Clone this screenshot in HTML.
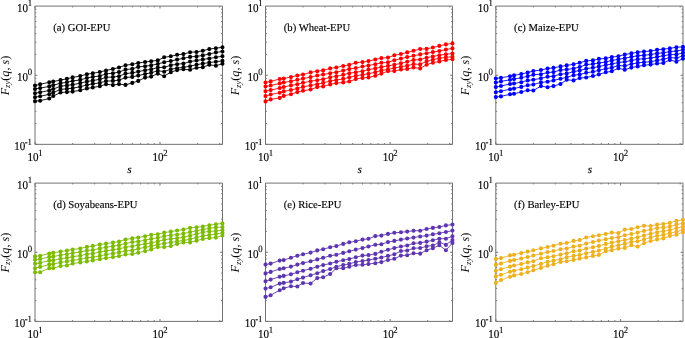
<!DOCTYPE html>
<html><head><meta charset="utf-8"><style>
html,body{margin:0;padding:0;background:#fff;}
svg{display:block;}
text{font-family:"Liberation Serif",serif;fill:#000;stroke:#000;stroke-width:0.15px;text-rendering:geometricPrecision;}
svg{will-change:transform;}
</style></head><body>
<svg width="685" height="338" viewBox="0 0 685 338">
<path d="M35 6.1H222.5V144.35H35Z" fill="none" stroke="#737373" stroke-width="1"/>
<path d="M35 144.35v-2.4M35 6.1v2.4M72.63 144.35v-1.3M72.63 6.1v1.3M94.64 144.35v-1.3M94.64 6.1v1.3M110.26 144.35v-1.3M110.26 6.1v1.3M122.37 144.35v-1.3M122.37 6.1v1.3M132.27 144.35v-1.3M132.27 6.1v1.3M140.64 144.35v-1.3M140.64 6.1v1.3M147.89 144.35v-1.3M147.89 6.1v1.3M154.28 144.35v-1.3M154.28 6.1v1.3M160 144.35v-2.4M160 6.1v2.4M197.63 144.35v-1.3M197.63 6.1v1.3M219.64 144.35v-1.3M219.64 6.1v1.3M35 144.35h2.4M222.5 144.35h-2.4M35 123.54h1.3M222.5 123.54h-1.3M35 111.37h1.3M222.5 111.37h-1.3M35 102.73h1.3M222.5 102.73h-1.3M35 96.03h1.3M222.5 96.03h-1.3M35 90.56h1.3M222.5 90.56h-1.3M35 85.93h1.3M222.5 85.93h-1.3M35 81.92h1.3M222.5 81.92h-1.3M35 78.39h1.3M222.5 78.39h-1.3M35 75.22h2.4M222.5 75.22h-2.4M35 54.42h1.3M222.5 54.42h-1.3M35 42.24h1.3M222.5 42.24h-1.3M35 33.61h1.3M222.5 33.61h-1.3M35 26.91h1.3M222.5 26.91h-1.3M35 21.44h1.3M222.5 21.44h-1.3M35 16.81h1.3M222.5 16.81h-1.3M35 12.8h1.3M222.5 12.8h-1.3M35 9.26h1.3M222.5 9.26h-1.3" fill="none" stroke="#737373" stroke-width="1"/>
<polyline points="35,85.5 40.17,84.3 49.24,82.3 53.27,81.5 60.51,80.1 66.91,78.8 72.63,77.4 80.22,76.1 86.87,74.2 92.8,73.3 99.81,72 106.03,70.5 112.91,69 119.01,67.5 125.53,65.2 132.27,64.3 138.26,63 145.1,62 151.18,61.2 157.78,60.4 164.18,57.3 170.79,56.3 177.09,54.8 183.44,54.1 190.07,52.2 196.53,52 202.8,50.7 209.31,49.1 215.89,48.2 222.46,47.3" fill="none" stroke="#000000" stroke-width="0.9"/>
<polyline points="35,89 40.17,88.1 49.24,86.4 53.27,85.2 60.51,83.2 66.91,82.3 72.63,81 80.22,79.9 86.87,78 92.8,76.9 99.81,76 106.03,73.9 112.91,73.2 119.01,72.1 125.53,69.6 132.27,68.9 138.26,66.9 145.1,66.2 151.18,65.4 157.78,64 164.18,62.2 170.79,61 177.09,59.6 183.44,58.3 190.07,56.9 196.53,56.4 202.8,55.4 209.31,54 215.89,52.4 222.46,51.5" fill="none" stroke="#000000" stroke-width="0.9"/>
<polyline points="35,93.2 40.17,92.3 49.24,90.5 53.27,89 60.51,86.3 66.91,85.4 72.63,84.7 80.22,83.2 86.87,81.5 92.8,80.6 99.81,79.3 106.03,77.3 112.91,77.1 119.01,76.2 125.53,73.6 132.27,72.9 138.26,71.6 145.1,70.2 151.18,69.4 157.78,67.5 164.18,67.3 170.79,65.3 177.09,64.2 183.44,63.6 190.07,61.6 196.53,60.5 202.8,59.5 209.31,58.5 215.89,57.3 222.46,56.2" fill="none" stroke="#000000" stroke-width="0.9"/>
<polyline points="35,97.2 40.17,96.3 49.24,94.3 53.27,92.6 60.51,89.4 66.91,88.8 72.63,88.2 80.22,86.7 86.87,85 92.8,83.8 99.81,82.9 106.03,81 112.91,80.9 119.01,80.1 125.53,77.6 132.27,76.9 138.26,75.6 145.1,74 151.18,72.8 157.78,70.7 164.18,71.7 170.79,69.2 177.09,68.2 183.44,67.3 190.07,66.2 196.53,64.7 202.8,63.6 209.31,62.6 215.89,61.7 222.46,60.9" fill="none" stroke="#000000" stroke-width="0.9"/>
<polyline points="35,101.2 40.17,100.7 49.24,98.5 53.27,96 60.51,92.5 66.91,92.1 72.63,91.6 80.22,90.3 86.87,88.5 92.8,87.5 99.81,86.2 106.03,84.2 112.91,85.1 119.01,84.1 125.53,84.9 132.27,82.9 138.26,80.9 145.1,77.6 151.18,76.6 157.78,73.6 164.18,76.2 170.79,72.2 177.09,70.1 183.44,69.3 190.07,69.8 196.53,67.8 202.8,67.3 209.31,64.8 215.89,65.7 222.46,63.8" fill="none" stroke="#000000" stroke-width="0.9"/>
<path d="M32.95 85.5a2.05 2.05 0 1 0 4.1 0a2.05 2.05 0 1 0 -4.1 0M38.12 84.3a2.05 2.05 0 1 0 4.1 0a2.05 2.05 0 1 0 -4.1 0M47.19 82.3a2.05 2.05 0 1 0 4.1 0a2.05 2.05 0 1 0 -4.1 0M51.22 81.5a2.05 2.05 0 1 0 4.1 0a2.05 2.05 0 1 0 -4.1 0M58.46 80.1a2.05 2.05 0 1 0 4.1 0a2.05 2.05 0 1 0 -4.1 0M64.86 78.8a2.05 2.05 0 1 0 4.1 0a2.05 2.05 0 1 0 -4.1 0M70.58 77.4a2.05 2.05 0 1 0 4.1 0a2.05 2.05 0 1 0 -4.1 0M78.17 76.1a2.05 2.05 0 1 0 4.1 0a2.05 2.05 0 1 0 -4.1 0M84.82 74.2a2.05 2.05 0 1 0 4.1 0a2.05 2.05 0 1 0 -4.1 0M90.75 73.3a2.05 2.05 0 1 0 4.1 0a2.05 2.05 0 1 0 -4.1 0M97.76 72a2.05 2.05 0 1 0 4.1 0a2.05 2.05 0 1 0 -4.1 0M103.98 70.5a2.05 2.05 0 1 0 4.1 0a2.05 2.05 0 1 0 -4.1 0M110.86 69a2.05 2.05 0 1 0 4.1 0a2.05 2.05 0 1 0 -4.1 0M116.96 67.5a2.05 2.05 0 1 0 4.1 0a2.05 2.05 0 1 0 -4.1 0M123.48 65.2a2.05 2.05 0 1 0 4.1 0a2.05 2.05 0 1 0 -4.1 0M130.22 64.3a2.05 2.05 0 1 0 4.1 0a2.05 2.05 0 1 0 -4.1 0M136.21 63a2.05 2.05 0 1 0 4.1 0a2.05 2.05 0 1 0 -4.1 0M143.05 62a2.05 2.05 0 1 0 4.1 0a2.05 2.05 0 1 0 -4.1 0M149.13 61.2a2.05 2.05 0 1 0 4.1 0a2.05 2.05 0 1 0 -4.1 0M155.73 60.4a2.05 2.05 0 1 0 4.1 0a2.05 2.05 0 1 0 -4.1 0M162.13 57.3a2.05 2.05 0 1 0 4.1 0a2.05 2.05 0 1 0 -4.1 0M168.74 56.3a2.05 2.05 0 1 0 4.1 0a2.05 2.05 0 1 0 -4.1 0M175.04 54.8a2.05 2.05 0 1 0 4.1 0a2.05 2.05 0 1 0 -4.1 0M181.39 54.1a2.05 2.05 0 1 0 4.1 0a2.05 2.05 0 1 0 -4.1 0M188.02 52.2a2.05 2.05 0 1 0 4.1 0a2.05 2.05 0 1 0 -4.1 0M194.48 52a2.05 2.05 0 1 0 4.1 0a2.05 2.05 0 1 0 -4.1 0M200.75 50.7a2.05 2.05 0 1 0 4.1 0a2.05 2.05 0 1 0 -4.1 0M207.26 49.1a2.05 2.05 0 1 0 4.1 0a2.05 2.05 0 1 0 -4.1 0M213.84 48.2a2.05 2.05 0 1 0 4.1 0a2.05 2.05 0 1 0 -4.1 0M220.41 47.3a2.05 2.05 0 1 0 4.1 0a2.05 2.05 0 1 0 -4.1 0M32.95 89a2.05 2.05 0 1 0 4.1 0a2.05 2.05 0 1 0 -4.1 0M38.12 88.1a2.05 2.05 0 1 0 4.1 0a2.05 2.05 0 1 0 -4.1 0M47.19 86.4a2.05 2.05 0 1 0 4.1 0a2.05 2.05 0 1 0 -4.1 0M51.22 85.2a2.05 2.05 0 1 0 4.1 0a2.05 2.05 0 1 0 -4.1 0M58.46 83.2a2.05 2.05 0 1 0 4.1 0a2.05 2.05 0 1 0 -4.1 0M64.86 82.3a2.05 2.05 0 1 0 4.1 0a2.05 2.05 0 1 0 -4.1 0M70.58 81a2.05 2.05 0 1 0 4.1 0a2.05 2.05 0 1 0 -4.1 0M78.17 79.9a2.05 2.05 0 1 0 4.1 0a2.05 2.05 0 1 0 -4.1 0M84.82 78a2.05 2.05 0 1 0 4.1 0a2.05 2.05 0 1 0 -4.1 0M90.75 76.9a2.05 2.05 0 1 0 4.1 0a2.05 2.05 0 1 0 -4.1 0M97.76 76a2.05 2.05 0 1 0 4.1 0a2.05 2.05 0 1 0 -4.1 0M103.98 73.9a2.05 2.05 0 1 0 4.1 0a2.05 2.05 0 1 0 -4.1 0M110.86 73.2a2.05 2.05 0 1 0 4.1 0a2.05 2.05 0 1 0 -4.1 0M116.96 72.1a2.05 2.05 0 1 0 4.1 0a2.05 2.05 0 1 0 -4.1 0M123.48 69.6a2.05 2.05 0 1 0 4.1 0a2.05 2.05 0 1 0 -4.1 0M130.22 68.9a2.05 2.05 0 1 0 4.1 0a2.05 2.05 0 1 0 -4.1 0M136.21 66.9a2.05 2.05 0 1 0 4.1 0a2.05 2.05 0 1 0 -4.1 0M143.05 66.2a2.05 2.05 0 1 0 4.1 0a2.05 2.05 0 1 0 -4.1 0M149.13 65.4a2.05 2.05 0 1 0 4.1 0a2.05 2.05 0 1 0 -4.1 0M155.73 64a2.05 2.05 0 1 0 4.1 0a2.05 2.05 0 1 0 -4.1 0M162.13 62.2a2.05 2.05 0 1 0 4.1 0a2.05 2.05 0 1 0 -4.1 0M168.74 61a2.05 2.05 0 1 0 4.1 0a2.05 2.05 0 1 0 -4.1 0M175.04 59.6a2.05 2.05 0 1 0 4.1 0a2.05 2.05 0 1 0 -4.1 0M181.39 58.3a2.05 2.05 0 1 0 4.1 0a2.05 2.05 0 1 0 -4.1 0M188.02 56.9a2.05 2.05 0 1 0 4.1 0a2.05 2.05 0 1 0 -4.1 0M194.48 56.4a2.05 2.05 0 1 0 4.1 0a2.05 2.05 0 1 0 -4.1 0M200.75 55.4a2.05 2.05 0 1 0 4.1 0a2.05 2.05 0 1 0 -4.1 0M207.26 54a2.05 2.05 0 1 0 4.1 0a2.05 2.05 0 1 0 -4.1 0M213.84 52.4a2.05 2.05 0 1 0 4.1 0a2.05 2.05 0 1 0 -4.1 0M220.41 51.5a2.05 2.05 0 1 0 4.1 0a2.05 2.05 0 1 0 -4.1 0M32.95 93.2a2.05 2.05 0 1 0 4.1 0a2.05 2.05 0 1 0 -4.1 0M38.12 92.3a2.05 2.05 0 1 0 4.1 0a2.05 2.05 0 1 0 -4.1 0M47.19 90.5a2.05 2.05 0 1 0 4.1 0a2.05 2.05 0 1 0 -4.1 0M51.22 89a2.05 2.05 0 1 0 4.1 0a2.05 2.05 0 1 0 -4.1 0M58.46 86.3a2.05 2.05 0 1 0 4.1 0a2.05 2.05 0 1 0 -4.1 0M64.86 85.4a2.05 2.05 0 1 0 4.1 0a2.05 2.05 0 1 0 -4.1 0M70.58 84.7a2.05 2.05 0 1 0 4.1 0a2.05 2.05 0 1 0 -4.1 0M78.17 83.2a2.05 2.05 0 1 0 4.1 0a2.05 2.05 0 1 0 -4.1 0M84.82 81.5a2.05 2.05 0 1 0 4.1 0a2.05 2.05 0 1 0 -4.1 0M90.75 80.6a2.05 2.05 0 1 0 4.1 0a2.05 2.05 0 1 0 -4.1 0M97.76 79.3a2.05 2.05 0 1 0 4.1 0a2.05 2.05 0 1 0 -4.1 0M103.98 77.3a2.05 2.05 0 1 0 4.1 0a2.05 2.05 0 1 0 -4.1 0M110.86 77.1a2.05 2.05 0 1 0 4.1 0a2.05 2.05 0 1 0 -4.1 0M116.96 76.2a2.05 2.05 0 1 0 4.1 0a2.05 2.05 0 1 0 -4.1 0M123.48 73.6a2.05 2.05 0 1 0 4.1 0a2.05 2.05 0 1 0 -4.1 0M130.22 72.9a2.05 2.05 0 1 0 4.1 0a2.05 2.05 0 1 0 -4.1 0M136.21 71.6a2.05 2.05 0 1 0 4.1 0a2.05 2.05 0 1 0 -4.1 0M143.05 70.2a2.05 2.05 0 1 0 4.1 0a2.05 2.05 0 1 0 -4.1 0M149.13 69.4a2.05 2.05 0 1 0 4.1 0a2.05 2.05 0 1 0 -4.1 0M155.73 67.5a2.05 2.05 0 1 0 4.1 0a2.05 2.05 0 1 0 -4.1 0M162.13 67.3a2.05 2.05 0 1 0 4.1 0a2.05 2.05 0 1 0 -4.1 0M168.74 65.3a2.05 2.05 0 1 0 4.1 0a2.05 2.05 0 1 0 -4.1 0M175.04 64.2a2.05 2.05 0 1 0 4.1 0a2.05 2.05 0 1 0 -4.1 0M181.39 63.6a2.05 2.05 0 1 0 4.1 0a2.05 2.05 0 1 0 -4.1 0M188.02 61.6a2.05 2.05 0 1 0 4.1 0a2.05 2.05 0 1 0 -4.1 0M194.48 60.5a2.05 2.05 0 1 0 4.1 0a2.05 2.05 0 1 0 -4.1 0M200.75 59.5a2.05 2.05 0 1 0 4.1 0a2.05 2.05 0 1 0 -4.1 0M207.26 58.5a2.05 2.05 0 1 0 4.1 0a2.05 2.05 0 1 0 -4.1 0M213.84 57.3a2.05 2.05 0 1 0 4.1 0a2.05 2.05 0 1 0 -4.1 0M220.41 56.2a2.05 2.05 0 1 0 4.1 0a2.05 2.05 0 1 0 -4.1 0M32.95 97.2a2.05 2.05 0 1 0 4.1 0a2.05 2.05 0 1 0 -4.1 0M38.12 96.3a2.05 2.05 0 1 0 4.1 0a2.05 2.05 0 1 0 -4.1 0M47.19 94.3a2.05 2.05 0 1 0 4.1 0a2.05 2.05 0 1 0 -4.1 0M51.22 92.6a2.05 2.05 0 1 0 4.1 0a2.05 2.05 0 1 0 -4.1 0M58.46 89.4a2.05 2.05 0 1 0 4.1 0a2.05 2.05 0 1 0 -4.1 0M64.86 88.8a2.05 2.05 0 1 0 4.1 0a2.05 2.05 0 1 0 -4.1 0M70.58 88.2a2.05 2.05 0 1 0 4.1 0a2.05 2.05 0 1 0 -4.1 0M78.17 86.7a2.05 2.05 0 1 0 4.1 0a2.05 2.05 0 1 0 -4.1 0M84.82 85a2.05 2.05 0 1 0 4.1 0a2.05 2.05 0 1 0 -4.1 0M90.75 83.8a2.05 2.05 0 1 0 4.1 0a2.05 2.05 0 1 0 -4.1 0M97.76 82.9a2.05 2.05 0 1 0 4.1 0a2.05 2.05 0 1 0 -4.1 0M103.98 81a2.05 2.05 0 1 0 4.1 0a2.05 2.05 0 1 0 -4.1 0M110.86 80.9a2.05 2.05 0 1 0 4.1 0a2.05 2.05 0 1 0 -4.1 0M116.96 80.1a2.05 2.05 0 1 0 4.1 0a2.05 2.05 0 1 0 -4.1 0M123.48 77.6a2.05 2.05 0 1 0 4.1 0a2.05 2.05 0 1 0 -4.1 0M130.22 76.9a2.05 2.05 0 1 0 4.1 0a2.05 2.05 0 1 0 -4.1 0M136.21 75.6a2.05 2.05 0 1 0 4.1 0a2.05 2.05 0 1 0 -4.1 0M143.05 74a2.05 2.05 0 1 0 4.1 0a2.05 2.05 0 1 0 -4.1 0M149.13 72.8a2.05 2.05 0 1 0 4.1 0a2.05 2.05 0 1 0 -4.1 0M155.73 70.7a2.05 2.05 0 1 0 4.1 0a2.05 2.05 0 1 0 -4.1 0M162.13 71.7a2.05 2.05 0 1 0 4.1 0a2.05 2.05 0 1 0 -4.1 0M168.74 69.2a2.05 2.05 0 1 0 4.1 0a2.05 2.05 0 1 0 -4.1 0M175.04 68.2a2.05 2.05 0 1 0 4.1 0a2.05 2.05 0 1 0 -4.1 0M181.39 67.3a2.05 2.05 0 1 0 4.1 0a2.05 2.05 0 1 0 -4.1 0M188.02 66.2a2.05 2.05 0 1 0 4.1 0a2.05 2.05 0 1 0 -4.1 0M194.48 64.7a2.05 2.05 0 1 0 4.1 0a2.05 2.05 0 1 0 -4.1 0M200.75 63.6a2.05 2.05 0 1 0 4.1 0a2.05 2.05 0 1 0 -4.1 0M207.26 62.6a2.05 2.05 0 1 0 4.1 0a2.05 2.05 0 1 0 -4.1 0M213.84 61.7a2.05 2.05 0 1 0 4.1 0a2.05 2.05 0 1 0 -4.1 0M220.41 60.9a2.05 2.05 0 1 0 4.1 0a2.05 2.05 0 1 0 -4.1 0M32.95 101.2a2.05 2.05 0 1 0 4.1 0a2.05 2.05 0 1 0 -4.1 0M38.12 100.7a2.05 2.05 0 1 0 4.1 0a2.05 2.05 0 1 0 -4.1 0M47.19 98.5a2.05 2.05 0 1 0 4.1 0a2.05 2.05 0 1 0 -4.1 0M51.22 96a2.05 2.05 0 1 0 4.1 0a2.05 2.05 0 1 0 -4.1 0M58.46 92.5a2.05 2.05 0 1 0 4.1 0a2.05 2.05 0 1 0 -4.1 0M64.86 92.1a2.05 2.05 0 1 0 4.1 0a2.05 2.05 0 1 0 -4.1 0M70.58 91.6a2.05 2.05 0 1 0 4.1 0a2.05 2.05 0 1 0 -4.1 0M78.17 90.3a2.05 2.05 0 1 0 4.1 0a2.05 2.05 0 1 0 -4.1 0M84.82 88.5a2.05 2.05 0 1 0 4.1 0a2.05 2.05 0 1 0 -4.1 0M90.75 87.5a2.05 2.05 0 1 0 4.1 0a2.05 2.05 0 1 0 -4.1 0M97.76 86.2a2.05 2.05 0 1 0 4.1 0a2.05 2.05 0 1 0 -4.1 0M103.98 84.2a2.05 2.05 0 1 0 4.1 0a2.05 2.05 0 1 0 -4.1 0M110.86 85.1a2.05 2.05 0 1 0 4.1 0a2.05 2.05 0 1 0 -4.1 0M116.96 84.1a2.05 2.05 0 1 0 4.1 0a2.05 2.05 0 1 0 -4.1 0M123.48 84.9a2.05 2.05 0 1 0 4.1 0a2.05 2.05 0 1 0 -4.1 0M130.22 82.9a2.05 2.05 0 1 0 4.1 0a2.05 2.05 0 1 0 -4.1 0M136.21 80.9a2.05 2.05 0 1 0 4.1 0a2.05 2.05 0 1 0 -4.1 0M143.05 77.6a2.05 2.05 0 1 0 4.1 0a2.05 2.05 0 1 0 -4.1 0M149.13 76.6a2.05 2.05 0 1 0 4.1 0a2.05 2.05 0 1 0 -4.1 0M155.73 73.6a2.05 2.05 0 1 0 4.1 0a2.05 2.05 0 1 0 -4.1 0M162.13 76.2a2.05 2.05 0 1 0 4.1 0a2.05 2.05 0 1 0 -4.1 0M168.74 72.2a2.05 2.05 0 1 0 4.1 0a2.05 2.05 0 1 0 -4.1 0M175.04 70.1a2.05 2.05 0 1 0 4.1 0a2.05 2.05 0 1 0 -4.1 0M181.39 69.3a2.05 2.05 0 1 0 4.1 0a2.05 2.05 0 1 0 -4.1 0M188.02 69.8a2.05 2.05 0 1 0 4.1 0a2.05 2.05 0 1 0 -4.1 0M194.48 67.8a2.05 2.05 0 1 0 4.1 0a2.05 2.05 0 1 0 -4.1 0M200.75 67.3a2.05 2.05 0 1 0 4.1 0a2.05 2.05 0 1 0 -4.1 0M207.26 64.8a2.05 2.05 0 1 0 4.1 0a2.05 2.05 0 1 0 -4.1 0M213.84 65.7a2.05 2.05 0 1 0 4.1 0a2.05 2.05 0 1 0 -4.1 0M220.41 63.8a2.05 2.05 0 1 0 4.1 0a2.05 2.05 0 1 0 -4.1 0" fill="#000000"/>
<text transform="translate(32,11.75) scale(0.92,1)" text-anchor="end" font-size="12">10<tspan dx="-0.5" dy="-5.5" font-size="9.5">1</tspan></text>
<text transform="translate(32,80.88) scale(0.92,1)" text-anchor="end" font-size="12">10<tspan dx="-0.5" dy="-5.5" font-size="9.5">0</tspan></text>
<text transform="translate(32,150) scale(0.92,1)" text-anchor="end" font-size="12">10<tspan dx="-0.5" dy="-5.5" font-size="9.5">-1</tspan></text>
<text transform="translate(35,161) scale(0.92,1)" text-anchor="middle" font-size="12">10<tspan dx="-0.4" dy="-5.5" font-size="9.5">1</tspan></text>
<text transform="translate(160,161) scale(0.92,1)" text-anchor="middle" font-size="12">10<tspan dx="-0.4" dy="-5.5" font-size="9.5">2</tspan></text>
<text x="129.35" y="173.25" text-anchor="middle" font-size="11.2" font-style="italic">s</text>
<text transform="translate(8.6,75.52) rotate(-90)" text-anchor="middle" font-size="12.2" style="stroke:none"><tspan font-style="italic">F</tspan><tspan dy="1.8" font-size="8.6" font-style="italic">zy</tspan><tspan dy="-1.8">(</tspan><tspan font-style="italic">q</tspan>, <tspan font-style="italic">s</tspan>)</text>
<text x="53.3" y="30.5" font-size="10.65">(a) GOI-EPU</text>
<path d="M265.5 6.1H452.5V144.35H265.5Z" fill="none" stroke="#737373" stroke-width="1"/>
<path d="M265.5 144.35v-2.4M265.5 6.1v2.4M303.03 144.35v-1.3M303.03 6.1v1.3M324.98 144.35v-1.3M324.98 6.1v1.3M340.56 144.35v-1.3M340.56 6.1v1.3M352.64 144.35v-1.3M352.64 6.1v1.3M362.51 144.35v-1.3M362.51 6.1v1.3M370.86 144.35v-1.3M370.86 6.1v1.3M378.09 144.35v-1.3M378.09 6.1v1.3M384.46 144.35v-1.3M384.46 6.1v1.3M390.17 144.35v-2.4M390.17 6.1v2.4M427.7 144.35v-1.3M427.7 6.1v1.3M449.65 144.35v-1.3M449.65 6.1v1.3M265.5 144.35h2.4M452.5 144.35h-2.4M265.5 123.54h1.3M452.5 123.54h-1.3M265.5 111.37h1.3M452.5 111.37h-1.3M265.5 102.73h1.3M452.5 102.73h-1.3M265.5 96.03h1.3M452.5 96.03h-1.3M265.5 90.56h1.3M452.5 90.56h-1.3M265.5 85.93h1.3M452.5 85.93h-1.3M265.5 81.92h1.3M452.5 81.92h-1.3M265.5 78.39h1.3M452.5 78.39h-1.3M265.5 75.22h2.4M452.5 75.22h-2.4M265.5 54.42h1.3M452.5 54.42h-1.3M265.5 42.24h1.3M452.5 42.24h-1.3M265.5 33.61h1.3M452.5 33.61h-1.3M265.5 26.91h1.3M452.5 26.91h-1.3M265.5 21.44h1.3M452.5 21.44h-1.3M265.5 16.81h1.3M452.5 16.81h-1.3M265.5 12.8h1.3M452.5 12.8h-1.3M265.5 9.26h1.3M452.5 9.26h-1.3" fill="none" stroke="#737373" stroke-width="1"/>
<polyline points="265.5,82.5 270.66,81.4 279.7,79 283.72,78.5 290.95,77.1 297.32,75.5 303.03,74.5 310.6,72.4 317.23,71.2 323.15,70.4 330.14,68.4 336.34,67.5 343.2,66 349.29,64.9 355.79,62.7 362.51,62.1 368.48,61.1 375.31,59.5 381.37,58.1 387.96,57.6 394.33,55.3 400.93,54 407.21,52.4 413.54,50.8 420.16,49 426.6,48.9 432.86,47.5 439.34,45.9 445.91,44.4 452.46,43.4" fill="none" stroke="#ff0000" stroke-width="0.9"/>
<polyline points="265.5,86.5 270.66,85.5 279.7,83.4 283.72,82.5 290.95,81.2 297.32,79.7 303.03,78.6 310.6,77.1 317.23,75.5 323.15,74.5 330.14,73.3 336.34,72.2 343.2,70.6 349.29,69.1 355.79,68 362.51,66.5 368.48,65.5 375.31,64.2 381.37,62.8 387.96,62.3 394.33,60.2 400.93,58.6 407.21,57.1 413.54,55.8 420.16,54.4 426.6,53.3 432.86,52.1 439.34,51 445.91,49.6 452.46,48.4" fill="none" stroke="#ff0000" stroke-width="0.9"/>
<polyline points="265.5,91.2 270.66,90.1 279.7,88.1 283.72,87 290.95,85.4 297.32,84.3 303.03,82.8 310.6,81.2 317.23,80.2 323.15,79.2 330.14,77.3 336.34,76.3 343.2,74.8 349.29,73.2 355.79,72.2 362.51,71.2 368.48,69.6 375.31,68.4 381.37,67.1 387.96,65.9 394.33,64.8 400.93,63.3 407.21,61.7 413.54,60 420.16,59.6 426.6,57.7 432.86,56.5 439.34,55.2 445.91,54.3 452.46,53.5" fill="none" stroke="#ff0000" stroke-width="0.9"/>
<polyline points="265.5,96.1 270.66,94.5 279.7,92.7 283.72,91.4 290.95,90 297.32,88.5 303.03,86.9 310.6,85.4 317.23,84.3 323.15,82.8 330.14,81.1 336.34,80 343.2,78.9 349.29,77.4 355.79,75.8 362.51,74.8 368.48,73.7 375.31,72.2 381.37,70.5 387.96,69.5 394.33,68 400.93,66.7 407.21,65.7 413.54,64.1 420.16,64.4 426.6,61.3 432.86,59.7 439.34,58.3 445.91,57.3 452.46,56.9" fill="none" stroke="#ff0000" stroke-width="0.9"/>
<polyline points="265.5,101.4 270.66,99.4 279.7,97.9 283.72,95.9 290.95,94.2 297.32,92.1 303.03,90.8 310.6,89.5 317.23,87.1 323.15,86.4 330.14,84.4 336.34,83.1 343.2,82.5 349.29,81.5 355.79,79.1 362.51,77.9 368.48,77.4 375.31,75.8 381.37,73.6 387.96,71.1 394.33,71.1 400.93,69.5 407.21,69 413.54,67.5 420.16,68.4 426.6,64.7 432.86,62.7 439.34,61.4 445.91,60 452.46,59.3" fill="none" stroke="#ff0000" stroke-width="0.9"/>
<path d="M263.45 82.5a2.05 2.05 0 1 0 4.1 0a2.05 2.05 0 1 0 -4.1 0M268.61 81.4a2.05 2.05 0 1 0 4.1 0a2.05 2.05 0 1 0 -4.1 0M277.65 79a2.05 2.05 0 1 0 4.1 0a2.05 2.05 0 1 0 -4.1 0M281.67 78.5a2.05 2.05 0 1 0 4.1 0a2.05 2.05 0 1 0 -4.1 0M288.9 77.1a2.05 2.05 0 1 0 4.1 0a2.05 2.05 0 1 0 -4.1 0M295.27 75.5a2.05 2.05 0 1 0 4.1 0a2.05 2.05 0 1 0 -4.1 0M300.98 74.5a2.05 2.05 0 1 0 4.1 0a2.05 2.05 0 1 0 -4.1 0M308.55 72.4a2.05 2.05 0 1 0 4.1 0a2.05 2.05 0 1 0 -4.1 0M315.18 71.2a2.05 2.05 0 1 0 4.1 0a2.05 2.05 0 1 0 -4.1 0M321.1 70.4a2.05 2.05 0 1 0 4.1 0a2.05 2.05 0 1 0 -4.1 0M328.09 68.4a2.05 2.05 0 1 0 4.1 0a2.05 2.05 0 1 0 -4.1 0M334.29 67.5a2.05 2.05 0 1 0 4.1 0a2.05 2.05 0 1 0 -4.1 0M341.15 66a2.05 2.05 0 1 0 4.1 0a2.05 2.05 0 1 0 -4.1 0M347.24 64.9a2.05 2.05 0 1 0 4.1 0a2.05 2.05 0 1 0 -4.1 0M353.74 62.7a2.05 2.05 0 1 0 4.1 0a2.05 2.05 0 1 0 -4.1 0M360.46 62.1a2.05 2.05 0 1 0 4.1 0a2.05 2.05 0 1 0 -4.1 0M366.43 61.1a2.05 2.05 0 1 0 4.1 0a2.05 2.05 0 1 0 -4.1 0M373.26 59.5a2.05 2.05 0 1 0 4.1 0a2.05 2.05 0 1 0 -4.1 0M379.32 58.1a2.05 2.05 0 1 0 4.1 0a2.05 2.05 0 1 0 -4.1 0M385.91 57.6a2.05 2.05 0 1 0 4.1 0a2.05 2.05 0 1 0 -4.1 0M392.28 55.3a2.05 2.05 0 1 0 4.1 0a2.05 2.05 0 1 0 -4.1 0M398.88 54a2.05 2.05 0 1 0 4.1 0a2.05 2.05 0 1 0 -4.1 0M405.16 52.4a2.05 2.05 0 1 0 4.1 0a2.05 2.05 0 1 0 -4.1 0M411.49 50.8a2.05 2.05 0 1 0 4.1 0a2.05 2.05 0 1 0 -4.1 0M418.11 49a2.05 2.05 0 1 0 4.1 0a2.05 2.05 0 1 0 -4.1 0M424.55 48.9a2.05 2.05 0 1 0 4.1 0a2.05 2.05 0 1 0 -4.1 0M430.81 47.5a2.05 2.05 0 1 0 4.1 0a2.05 2.05 0 1 0 -4.1 0M437.29 45.9a2.05 2.05 0 1 0 4.1 0a2.05 2.05 0 1 0 -4.1 0M443.86 44.4a2.05 2.05 0 1 0 4.1 0a2.05 2.05 0 1 0 -4.1 0M450.41 43.4a2.05 2.05 0 1 0 4.1 0a2.05 2.05 0 1 0 -4.1 0M263.45 86.5a2.05 2.05 0 1 0 4.1 0a2.05 2.05 0 1 0 -4.1 0M268.61 85.5a2.05 2.05 0 1 0 4.1 0a2.05 2.05 0 1 0 -4.1 0M277.65 83.4a2.05 2.05 0 1 0 4.1 0a2.05 2.05 0 1 0 -4.1 0M281.67 82.5a2.05 2.05 0 1 0 4.1 0a2.05 2.05 0 1 0 -4.1 0M288.9 81.2a2.05 2.05 0 1 0 4.1 0a2.05 2.05 0 1 0 -4.1 0M295.27 79.7a2.05 2.05 0 1 0 4.1 0a2.05 2.05 0 1 0 -4.1 0M300.98 78.6a2.05 2.05 0 1 0 4.1 0a2.05 2.05 0 1 0 -4.1 0M308.55 77.1a2.05 2.05 0 1 0 4.1 0a2.05 2.05 0 1 0 -4.1 0M315.18 75.5a2.05 2.05 0 1 0 4.1 0a2.05 2.05 0 1 0 -4.1 0M321.1 74.5a2.05 2.05 0 1 0 4.1 0a2.05 2.05 0 1 0 -4.1 0M328.09 73.3a2.05 2.05 0 1 0 4.1 0a2.05 2.05 0 1 0 -4.1 0M334.29 72.2a2.05 2.05 0 1 0 4.1 0a2.05 2.05 0 1 0 -4.1 0M341.15 70.6a2.05 2.05 0 1 0 4.1 0a2.05 2.05 0 1 0 -4.1 0M347.24 69.1a2.05 2.05 0 1 0 4.1 0a2.05 2.05 0 1 0 -4.1 0M353.74 68a2.05 2.05 0 1 0 4.1 0a2.05 2.05 0 1 0 -4.1 0M360.46 66.5a2.05 2.05 0 1 0 4.1 0a2.05 2.05 0 1 0 -4.1 0M366.43 65.5a2.05 2.05 0 1 0 4.1 0a2.05 2.05 0 1 0 -4.1 0M373.26 64.2a2.05 2.05 0 1 0 4.1 0a2.05 2.05 0 1 0 -4.1 0M379.32 62.8a2.05 2.05 0 1 0 4.1 0a2.05 2.05 0 1 0 -4.1 0M385.91 62.3a2.05 2.05 0 1 0 4.1 0a2.05 2.05 0 1 0 -4.1 0M392.28 60.2a2.05 2.05 0 1 0 4.1 0a2.05 2.05 0 1 0 -4.1 0M398.88 58.6a2.05 2.05 0 1 0 4.1 0a2.05 2.05 0 1 0 -4.1 0M405.16 57.1a2.05 2.05 0 1 0 4.1 0a2.05 2.05 0 1 0 -4.1 0M411.49 55.8a2.05 2.05 0 1 0 4.1 0a2.05 2.05 0 1 0 -4.1 0M418.11 54.4a2.05 2.05 0 1 0 4.1 0a2.05 2.05 0 1 0 -4.1 0M424.55 53.3a2.05 2.05 0 1 0 4.1 0a2.05 2.05 0 1 0 -4.1 0M430.81 52.1a2.05 2.05 0 1 0 4.1 0a2.05 2.05 0 1 0 -4.1 0M437.29 51a2.05 2.05 0 1 0 4.1 0a2.05 2.05 0 1 0 -4.1 0M443.86 49.6a2.05 2.05 0 1 0 4.1 0a2.05 2.05 0 1 0 -4.1 0M450.41 48.4a2.05 2.05 0 1 0 4.1 0a2.05 2.05 0 1 0 -4.1 0M263.45 91.2a2.05 2.05 0 1 0 4.1 0a2.05 2.05 0 1 0 -4.1 0M268.61 90.1a2.05 2.05 0 1 0 4.1 0a2.05 2.05 0 1 0 -4.1 0M277.65 88.1a2.05 2.05 0 1 0 4.1 0a2.05 2.05 0 1 0 -4.1 0M281.67 87a2.05 2.05 0 1 0 4.1 0a2.05 2.05 0 1 0 -4.1 0M288.9 85.4a2.05 2.05 0 1 0 4.1 0a2.05 2.05 0 1 0 -4.1 0M295.27 84.3a2.05 2.05 0 1 0 4.1 0a2.05 2.05 0 1 0 -4.1 0M300.98 82.8a2.05 2.05 0 1 0 4.1 0a2.05 2.05 0 1 0 -4.1 0M308.55 81.2a2.05 2.05 0 1 0 4.1 0a2.05 2.05 0 1 0 -4.1 0M315.18 80.2a2.05 2.05 0 1 0 4.1 0a2.05 2.05 0 1 0 -4.1 0M321.1 79.2a2.05 2.05 0 1 0 4.1 0a2.05 2.05 0 1 0 -4.1 0M328.09 77.3a2.05 2.05 0 1 0 4.1 0a2.05 2.05 0 1 0 -4.1 0M334.29 76.3a2.05 2.05 0 1 0 4.1 0a2.05 2.05 0 1 0 -4.1 0M341.15 74.8a2.05 2.05 0 1 0 4.1 0a2.05 2.05 0 1 0 -4.1 0M347.24 73.2a2.05 2.05 0 1 0 4.1 0a2.05 2.05 0 1 0 -4.1 0M353.74 72.2a2.05 2.05 0 1 0 4.1 0a2.05 2.05 0 1 0 -4.1 0M360.46 71.2a2.05 2.05 0 1 0 4.1 0a2.05 2.05 0 1 0 -4.1 0M366.43 69.6a2.05 2.05 0 1 0 4.1 0a2.05 2.05 0 1 0 -4.1 0M373.26 68.4a2.05 2.05 0 1 0 4.1 0a2.05 2.05 0 1 0 -4.1 0M379.32 67.1a2.05 2.05 0 1 0 4.1 0a2.05 2.05 0 1 0 -4.1 0M385.91 65.9a2.05 2.05 0 1 0 4.1 0a2.05 2.05 0 1 0 -4.1 0M392.28 64.8a2.05 2.05 0 1 0 4.1 0a2.05 2.05 0 1 0 -4.1 0M398.88 63.3a2.05 2.05 0 1 0 4.1 0a2.05 2.05 0 1 0 -4.1 0M405.16 61.7a2.05 2.05 0 1 0 4.1 0a2.05 2.05 0 1 0 -4.1 0M411.49 60a2.05 2.05 0 1 0 4.1 0a2.05 2.05 0 1 0 -4.1 0M418.11 59.6a2.05 2.05 0 1 0 4.1 0a2.05 2.05 0 1 0 -4.1 0M424.55 57.7a2.05 2.05 0 1 0 4.1 0a2.05 2.05 0 1 0 -4.1 0M430.81 56.5a2.05 2.05 0 1 0 4.1 0a2.05 2.05 0 1 0 -4.1 0M437.29 55.2a2.05 2.05 0 1 0 4.1 0a2.05 2.05 0 1 0 -4.1 0M443.86 54.3a2.05 2.05 0 1 0 4.1 0a2.05 2.05 0 1 0 -4.1 0M450.41 53.5a2.05 2.05 0 1 0 4.1 0a2.05 2.05 0 1 0 -4.1 0M263.45 96.1a2.05 2.05 0 1 0 4.1 0a2.05 2.05 0 1 0 -4.1 0M268.61 94.5a2.05 2.05 0 1 0 4.1 0a2.05 2.05 0 1 0 -4.1 0M277.65 92.7a2.05 2.05 0 1 0 4.1 0a2.05 2.05 0 1 0 -4.1 0M281.67 91.4a2.05 2.05 0 1 0 4.1 0a2.05 2.05 0 1 0 -4.1 0M288.9 90a2.05 2.05 0 1 0 4.1 0a2.05 2.05 0 1 0 -4.1 0M295.27 88.5a2.05 2.05 0 1 0 4.1 0a2.05 2.05 0 1 0 -4.1 0M300.98 86.9a2.05 2.05 0 1 0 4.1 0a2.05 2.05 0 1 0 -4.1 0M308.55 85.4a2.05 2.05 0 1 0 4.1 0a2.05 2.05 0 1 0 -4.1 0M315.18 84.3a2.05 2.05 0 1 0 4.1 0a2.05 2.05 0 1 0 -4.1 0M321.1 82.8a2.05 2.05 0 1 0 4.1 0a2.05 2.05 0 1 0 -4.1 0M328.09 81.1a2.05 2.05 0 1 0 4.1 0a2.05 2.05 0 1 0 -4.1 0M334.29 80a2.05 2.05 0 1 0 4.1 0a2.05 2.05 0 1 0 -4.1 0M341.15 78.9a2.05 2.05 0 1 0 4.1 0a2.05 2.05 0 1 0 -4.1 0M347.24 77.4a2.05 2.05 0 1 0 4.1 0a2.05 2.05 0 1 0 -4.1 0M353.74 75.8a2.05 2.05 0 1 0 4.1 0a2.05 2.05 0 1 0 -4.1 0M360.46 74.8a2.05 2.05 0 1 0 4.1 0a2.05 2.05 0 1 0 -4.1 0M366.43 73.7a2.05 2.05 0 1 0 4.1 0a2.05 2.05 0 1 0 -4.1 0M373.26 72.2a2.05 2.05 0 1 0 4.1 0a2.05 2.05 0 1 0 -4.1 0M379.32 70.5a2.05 2.05 0 1 0 4.1 0a2.05 2.05 0 1 0 -4.1 0M385.91 69.5a2.05 2.05 0 1 0 4.1 0a2.05 2.05 0 1 0 -4.1 0M392.28 68a2.05 2.05 0 1 0 4.1 0a2.05 2.05 0 1 0 -4.1 0M398.88 66.7a2.05 2.05 0 1 0 4.1 0a2.05 2.05 0 1 0 -4.1 0M405.16 65.7a2.05 2.05 0 1 0 4.1 0a2.05 2.05 0 1 0 -4.1 0M411.49 64.1a2.05 2.05 0 1 0 4.1 0a2.05 2.05 0 1 0 -4.1 0M418.11 64.4a2.05 2.05 0 1 0 4.1 0a2.05 2.05 0 1 0 -4.1 0M424.55 61.3a2.05 2.05 0 1 0 4.1 0a2.05 2.05 0 1 0 -4.1 0M430.81 59.7a2.05 2.05 0 1 0 4.1 0a2.05 2.05 0 1 0 -4.1 0M437.29 58.3a2.05 2.05 0 1 0 4.1 0a2.05 2.05 0 1 0 -4.1 0M443.86 57.3a2.05 2.05 0 1 0 4.1 0a2.05 2.05 0 1 0 -4.1 0M450.41 56.9a2.05 2.05 0 1 0 4.1 0a2.05 2.05 0 1 0 -4.1 0M263.45 101.4a2.05 2.05 0 1 0 4.1 0a2.05 2.05 0 1 0 -4.1 0M268.61 99.4a2.05 2.05 0 1 0 4.1 0a2.05 2.05 0 1 0 -4.1 0M277.65 97.9a2.05 2.05 0 1 0 4.1 0a2.05 2.05 0 1 0 -4.1 0M281.67 95.9a2.05 2.05 0 1 0 4.1 0a2.05 2.05 0 1 0 -4.1 0M288.9 94.2a2.05 2.05 0 1 0 4.1 0a2.05 2.05 0 1 0 -4.1 0M295.27 92.1a2.05 2.05 0 1 0 4.1 0a2.05 2.05 0 1 0 -4.1 0M300.98 90.8a2.05 2.05 0 1 0 4.1 0a2.05 2.05 0 1 0 -4.1 0M308.55 89.5a2.05 2.05 0 1 0 4.1 0a2.05 2.05 0 1 0 -4.1 0M315.18 87.1a2.05 2.05 0 1 0 4.1 0a2.05 2.05 0 1 0 -4.1 0M321.1 86.4a2.05 2.05 0 1 0 4.1 0a2.05 2.05 0 1 0 -4.1 0M328.09 84.4a2.05 2.05 0 1 0 4.1 0a2.05 2.05 0 1 0 -4.1 0M334.29 83.1a2.05 2.05 0 1 0 4.1 0a2.05 2.05 0 1 0 -4.1 0M341.15 82.5a2.05 2.05 0 1 0 4.1 0a2.05 2.05 0 1 0 -4.1 0M347.24 81.5a2.05 2.05 0 1 0 4.1 0a2.05 2.05 0 1 0 -4.1 0M353.74 79.1a2.05 2.05 0 1 0 4.1 0a2.05 2.05 0 1 0 -4.1 0M360.46 77.9a2.05 2.05 0 1 0 4.1 0a2.05 2.05 0 1 0 -4.1 0M366.43 77.4a2.05 2.05 0 1 0 4.1 0a2.05 2.05 0 1 0 -4.1 0M373.26 75.8a2.05 2.05 0 1 0 4.1 0a2.05 2.05 0 1 0 -4.1 0M379.32 73.6a2.05 2.05 0 1 0 4.1 0a2.05 2.05 0 1 0 -4.1 0M385.91 71.1a2.05 2.05 0 1 0 4.1 0a2.05 2.05 0 1 0 -4.1 0M392.28 71.1a2.05 2.05 0 1 0 4.1 0a2.05 2.05 0 1 0 -4.1 0M398.88 69.5a2.05 2.05 0 1 0 4.1 0a2.05 2.05 0 1 0 -4.1 0M405.16 69a2.05 2.05 0 1 0 4.1 0a2.05 2.05 0 1 0 -4.1 0M411.49 67.5a2.05 2.05 0 1 0 4.1 0a2.05 2.05 0 1 0 -4.1 0M418.11 68.4a2.05 2.05 0 1 0 4.1 0a2.05 2.05 0 1 0 -4.1 0M424.55 64.7a2.05 2.05 0 1 0 4.1 0a2.05 2.05 0 1 0 -4.1 0M430.81 62.7a2.05 2.05 0 1 0 4.1 0a2.05 2.05 0 1 0 -4.1 0M437.29 61.4a2.05 2.05 0 1 0 4.1 0a2.05 2.05 0 1 0 -4.1 0M443.86 60a2.05 2.05 0 1 0 4.1 0a2.05 2.05 0 1 0 -4.1 0M450.41 59.3a2.05 2.05 0 1 0 4.1 0a2.05 2.05 0 1 0 -4.1 0" fill="#ff0000"/>
<text transform="translate(262.5,11.75) scale(0.92,1)" text-anchor="end" font-size="12">10<tspan dx="-0.5" dy="-5.5" font-size="9.5">1</tspan></text>
<text transform="translate(262.5,80.88) scale(0.92,1)" text-anchor="end" font-size="12">10<tspan dx="-0.5" dy="-5.5" font-size="9.5">0</tspan></text>
<text transform="translate(262.5,150) scale(0.92,1)" text-anchor="end" font-size="12">10<tspan dx="-0.5" dy="-5.5" font-size="9.5">-1</tspan></text>
<text transform="translate(265.5,161) scale(0.92,1)" text-anchor="middle" font-size="12">10<tspan dx="-0.4" dy="-5.5" font-size="9.5">1</tspan></text>
<text transform="translate(390.17,161) scale(0.92,1)" text-anchor="middle" font-size="12">10<tspan dx="-0.4" dy="-5.5" font-size="9.5">2</tspan></text>
<text x="359.6" y="173.25" text-anchor="middle" font-size="11.2" font-style="italic">s</text>
<text transform="translate(239.1,75.52) rotate(-90)" text-anchor="middle" font-size="12.2" style="stroke:none"><tspan font-style="italic">F</tspan><tspan dy="1.8" font-size="8.6" font-style="italic">zy</tspan><tspan dy="-1.8">(</tspan><tspan font-style="italic">q</tspan>, <tspan font-style="italic">s</tspan>)</text>
<text x="283.8" y="30.5" font-size="10.65">(b) Wheat-EPU</text>
<path d="M495.8 6.1H683V144.35H495.8Z" fill="none" stroke="#737373" stroke-width="1"/>
<path d="M495.8 144.35v-2.4M495.8 6.1v2.4M533.37 144.35v-1.3M533.37 6.1v1.3M555.34 144.35v-1.3M555.34 6.1v1.3M570.94 144.35v-1.3M570.94 6.1v1.3M583.03 144.35v-1.3M583.03 6.1v1.3M592.91 144.35v-1.3M592.91 6.1v1.3M601.27 144.35v-1.3M601.27 6.1v1.3M608.51 144.35v-1.3M608.51 6.1v1.3M614.89 144.35v-1.3M614.89 6.1v1.3M620.6 144.35v-2.4M620.6 6.1v2.4M658.17 144.35v-1.3M658.17 6.1v1.3M680.14 144.35v-1.3M680.14 6.1v1.3M495.8 144.35h2.4M683 144.35h-2.4M495.8 123.54h1.3M683 123.54h-1.3M495.8 111.37h1.3M683 111.37h-1.3M495.8 102.73h1.3M683 102.73h-1.3M495.8 96.03h1.3M683 96.03h-1.3M495.8 90.56h1.3M683 90.56h-1.3M495.8 85.93h1.3M683 85.93h-1.3M495.8 81.92h1.3M683 81.92h-1.3M495.8 78.39h1.3M683 78.39h-1.3M495.8 75.22h2.4M683 75.22h-2.4M495.8 54.42h1.3M683 54.42h-1.3M495.8 42.24h1.3M683 42.24h-1.3M495.8 33.61h1.3M683 33.61h-1.3M495.8 26.91h1.3M683 26.91h-1.3M495.8 21.44h1.3M683 21.44h-1.3M495.8 16.81h1.3M683 16.81h-1.3M495.8 12.8h1.3M683 12.8h-1.3M495.8 9.26h1.3M683 9.26h-1.3" fill="none" stroke="#737373" stroke-width="1"/>
<polyline points="495.8,78.5 500.97,77.8 510.02,76.2 514.04,75.4 521.27,74.1 527.66,72.6 533.37,71 540.94,70 547.59,68.5 553.51,67.9 560.51,66.4 566.71,65.4 573.58,64.3 579.68,62.8 586.19,60.9 592.91,60.4 598.89,58.9 605.73,58.4 611.79,57.1 618.39,56.3 624.77,54.5 631.38,53.4 637.66,52.2 644,51.6 650.62,51 657.07,49.8 663.33,49.2 669.83,48.4 676.41,47.2 682.96,46.9" fill="none" stroke="#0000ff" stroke-width="0.9"/>
<polyline points="495.8,82.6 500.97,81.4 510.02,79.8 514.04,79.1 521.27,77.8 527.66,76.2 533.37,74.7 540.94,74.2 547.59,72.6 553.51,72.1 560.51,70 566.71,69.5 573.58,68.5 579.68,67 586.19,64.6 592.91,64 598.89,63 605.73,62 611.79,60.4 618.39,59.4 624.77,58.2 631.38,56.9 637.66,55.8 644,55.2 650.62,54.6 657.07,53.4 663.33,52.8 669.83,51.6 676.41,51 682.96,49.8" fill="none" stroke="#0000ff" stroke-width="0.9"/>
<polyline points="495.8,87.1 500.97,86 510.02,84 514.04,83.5 521.27,82.2 527.66,80.4 533.37,79.8 540.94,78.3 547.59,76.7 553.51,76.2 560.51,74.2 566.71,73.6 573.58,71.6 579.68,70.6 586.19,68.7 592.91,67.7 598.89,66.6 605.73,65.1 611.79,64 618.39,62.5 624.77,61.8 631.38,60.5 637.66,59.3 644,58.7 650.62,58.1 657.07,56.9 663.33,55.8 669.83,54.6 676.41,54.6 682.96,52.8" fill="none" stroke="#0000ff" stroke-width="0.9"/>
<polyline points="495.8,92.3 500.97,91.2 510.02,89.2 514.04,88.6 521.27,86.9 527.66,85.3 533.37,84.5 540.94,82.4 547.59,81.7 553.51,80.4 560.51,78.8 566.71,77.3 573.58,75.2 579.68,74.5 586.19,72.8 592.91,71.8 598.89,70.3 605.73,68.7 611.79,67.7 618.39,65.6 624.77,65.9 631.38,64 637.66,62.9 644,62.3 650.62,61.7 657.07,60.5 663.33,59.3 669.83,57.5 676.41,58.1 682.96,55.8" fill="none" stroke="#0000ff" stroke-width="0.9"/>
<polyline points="495.8,97.1 500.97,96.4 510.02,94.3 514.04,93.8 521.27,92 527.66,90.2 533.37,90.5 540.94,86.1 547.59,87.3 553.51,86.1 560.51,84 566.71,79.8 573.58,80.4 579.68,78.1 586.19,77.5 592.91,76 598.89,74.4 605.73,72.3 611.79,71.3 618.39,68.2 624.77,69.8 631.38,67.6 637.66,66.4 644,65.2 650.62,64.6 657.07,63.5 663.33,62.9 669.83,59.9 676.41,61.7 682.96,58.7" fill="none" stroke="#0000ff" stroke-width="0.9"/>
<path d="M493.75 78.5a2.05 2.05 0 1 0 4.1 0a2.05 2.05 0 1 0 -4.1 0M498.92 77.8a2.05 2.05 0 1 0 4.1 0a2.05 2.05 0 1 0 -4.1 0M507.97 76.2a2.05 2.05 0 1 0 4.1 0a2.05 2.05 0 1 0 -4.1 0M511.99 75.4a2.05 2.05 0 1 0 4.1 0a2.05 2.05 0 1 0 -4.1 0M519.22 74.1a2.05 2.05 0 1 0 4.1 0a2.05 2.05 0 1 0 -4.1 0M525.61 72.6a2.05 2.05 0 1 0 4.1 0a2.05 2.05 0 1 0 -4.1 0M531.32 71a2.05 2.05 0 1 0 4.1 0a2.05 2.05 0 1 0 -4.1 0M538.89 70a2.05 2.05 0 1 0 4.1 0a2.05 2.05 0 1 0 -4.1 0M545.54 68.5a2.05 2.05 0 1 0 4.1 0a2.05 2.05 0 1 0 -4.1 0M551.46 67.9a2.05 2.05 0 1 0 4.1 0a2.05 2.05 0 1 0 -4.1 0M558.46 66.4a2.05 2.05 0 1 0 4.1 0a2.05 2.05 0 1 0 -4.1 0M564.66 65.4a2.05 2.05 0 1 0 4.1 0a2.05 2.05 0 1 0 -4.1 0M571.53 64.3a2.05 2.05 0 1 0 4.1 0a2.05 2.05 0 1 0 -4.1 0M577.63 62.8a2.05 2.05 0 1 0 4.1 0a2.05 2.05 0 1 0 -4.1 0M584.14 60.9a2.05 2.05 0 1 0 4.1 0a2.05 2.05 0 1 0 -4.1 0M590.86 60.4a2.05 2.05 0 1 0 4.1 0a2.05 2.05 0 1 0 -4.1 0M596.84 58.9a2.05 2.05 0 1 0 4.1 0a2.05 2.05 0 1 0 -4.1 0M603.68 58.4a2.05 2.05 0 1 0 4.1 0a2.05 2.05 0 1 0 -4.1 0M609.74 57.1a2.05 2.05 0 1 0 4.1 0a2.05 2.05 0 1 0 -4.1 0M616.34 56.3a2.05 2.05 0 1 0 4.1 0a2.05 2.05 0 1 0 -4.1 0M622.72 54.5a2.05 2.05 0 1 0 4.1 0a2.05 2.05 0 1 0 -4.1 0M629.33 53.4a2.05 2.05 0 1 0 4.1 0a2.05 2.05 0 1 0 -4.1 0M635.61 52.2a2.05 2.05 0 1 0 4.1 0a2.05 2.05 0 1 0 -4.1 0M641.95 51.6a2.05 2.05 0 1 0 4.1 0a2.05 2.05 0 1 0 -4.1 0M648.57 51a2.05 2.05 0 1 0 4.1 0a2.05 2.05 0 1 0 -4.1 0M655.02 49.8a2.05 2.05 0 1 0 4.1 0a2.05 2.05 0 1 0 -4.1 0M661.28 49.2a2.05 2.05 0 1 0 4.1 0a2.05 2.05 0 1 0 -4.1 0M667.78 48.4a2.05 2.05 0 1 0 4.1 0a2.05 2.05 0 1 0 -4.1 0M674.36 47.2a2.05 2.05 0 1 0 4.1 0a2.05 2.05 0 1 0 -4.1 0M680.91 46.9a2.05 2.05 0 1 0 4.1 0a2.05 2.05 0 1 0 -4.1 0M493.75 82.6a2.05 2.05 0 1 0 4.1 0a2.05 2.05 0 1 0 -4.1 0M498.92 81.4a2.05 2.05 0 1 0 4.1 0a2.05 2.05 0 1 0 -4.1 0M507.97 79.8a2.05 2.05 0 1 0 4.1 0a2.05 2.05 0 1 0 -4.1 0M511.99 79.1a2.05 2.05 0 1 0 4.1 0a2.05 2.05 0 1 0 -4.1 0M519.22 77.8a2.05 2.05 0 1 0 4.1 0a2.05 2.05 0 1 0 -4.1 0M525.61 76.2a2.05 2.05 0 1 0 4.1 0a2.05 2.05 0 1 0 -4.1 0M531.32 74.7a2.05 2.05 0 1 0 4.1 0a2.05 2.05 0 1 0 -4.1 0M538.89 74.2a2.05 2.05 0 1 0 4.1 0a2.05 2.05 0 1 0 -4.1 0M545.54 72.6a2.05 2.05 0 1 0 4.1 0a2.05 2.05 0 1 0 -4.1 0M551.46 72.1a2.05 2.05 0 1 0 4.1 0a2.05 2.05 0 1 0 -4.1 0M558.46 70a2.05 2.05 0 1 0 4.1 0a2.05 2.05 0 1 0 -4.1 0M564.66 69.5a2.05 2.05 0 1 0 4.1 0a2.05 2.05 0 1 0 -4.1 0M571.53 68.5a2.05 2.05 0 1 0 4.1 0a2.05 2.05 0 1 0 -4.1 0M577.63 67a2.05 2.05 0 1 0 4.1 0a2.05 2.05 0 1 0 -4.1 0M584.14 64.6a2.05 2.05 0 1 0 4.1 0a2.05 2.05 0 1 0 -4.1 0M590.86 64a2.05 2.05 0 1 0 4.1 0a2.05 2.05 0 1 0 -4.1 0M596.84 63a2.05 2.05 0 1 0 4.1 0a2.05 2.05 0 1 0 -4.1 0M603.68 62a2.05 2.05 0 1 0 4.1 0a2.05 2.05 0 1 0 -4.1 0M609.74 60.4a2.05 2.05 0 1 0 4.1 0a2.05 2.05 0 1 0 -4.1 0M616.34 59.4a2.05 2.05 0 1 0 4.1 0a2.05 2.05 0 1 0 -4.1 0M622.72 58.2a2.05 2.05 0 1 0 4.1 0a2.05 2.05 0 1 0 -4.1 0M629.33 56.9a2.05 2.05 0 1 0 4.1 0a2.05 2.05 0 1 0 -4.1 0M635.61 55.8a2.05 2.05 0 1 0 4.1 0a2.05 2.05 0 1 0 -4.1 0M641.95 55.2a2.05 2.05 0 1 0 4.1 0a2.05 2.05 0 1 0 -4.1 0M648.57 54.6a2.05 2.05 0 1 0 4.1 0a2.05 2.05 0 1 0 -4.1 0M655.02 53.4a2.05 2.05 0 1 0 4.1 0a2.05 2.05 0 1 0 -4.1 0M661.28 52.8a2.05 2.05 0 1 0 4.1 0a2.05 2.05 0 1 0 -4.1 0M667.78 51.6a2.05 2.05 0 1 0 4.1 0a2.05 2.05 0 1 0 -4.1 0M674.36 51a2.05 2.05 0 1 0 4.1 0a2.05 2.05 0 1 0 -4.1 0M680.91 49.8a2.05 2.05 0 1 0 4.1 0a2.05 2.05 0 1 0 -4.1 0M493.75 87.1a2.05 2.05 0 1 0 4.1 0a2.05 2.05 0 1 0 -4.1 0M498.92 86a2.05 2.05 0 1 0 4.1 0a2.05 2.05 0 1 0 -4.1 0M507.97 84a2.05 2.05 0 1 0 4.1 0a2.05 2.05 0 1 0 -4.1 0M511.99 83.5a2.05 2.05 0 1 0 4.1 0a2.05 2.05 0 1 0 -4.1 0M519.22 82.2a2.05 2.05 0 1 0 4.1 0a2.05 2.05 0 1 0 -4.1 0M525.61 80.4a2.05 2.05 0 1 0 4.1 0a2.05 2.05 0 1 0 -4.1 0M531.32 79.8a2.05 2.05 0 1 0 4.1 0a2.05 2.05 0 1 0 -4.1 0M538.89 78.3a2.05 2.05 0 1 0 4.1 0a2.05 2.05 0 1 0 -4.1 0M545.54 76.7a2.05 2.05 0 1 0 4.1 0a2.05 2.05 0 1 0 -4.1 0M551.46 76.2a2.05 2.05 0 1 0 4.1 0a2.05 2.05 0 1 0 -4.1 0M558.46 74.2a2.05 2.05 0 1 0 4.1 0a2.05 2.05 0 1 0 -4.1 0M564.66 73.6a2.05 2.05 0 1 0 4.1 0a2.05 2.05 0 1 0 -4.1 0M571.53 71.6a2.05 2.05 0 1 0 4.1 0a2.05 2.05 0 1 0 -4.1 0M577.63 70.6a2.05 2.05 0 1 0 4.1 0a2.05 2.05 0 1 0 -4.1 0M584.14 68.7a2.05 2.05 0 1 0 4.1 0a2.05 2.05 0 1 0 -4.1 0M590.86 67.7a2.05 2.05 0 1 0 4.1 0a2.05 2.05 0 1 0 -4.1 0M596.84 66.6a2.05 2.05 0 1 0 4.1 0a2.05 2.05 0 1 0 -4.1 0M603.68 65.1a2.05 2.05 0 1 0 4.1 0a2.05 2.05 0 1 0 -4.1 0M609.74 64a2.05 2.05 0 1 0 4.1 0a2.05 2.05 0 1 0 -4.1 0M616.34 62.5a2.05 2.05 0 1 0 4.1 0a2.05 2.05 0 1 0 -4.1 0M622.72 61.8a2.05 2.05 0 1 0 4.1 0a2.05 2.05 0 1 0 -4.1 0M629.33 60.5a2.05 2.05 0 1 0 4.1 0a2.05 2.05 0 1 0 -4.1 0M635.61 59.3a2.05 2.05 0 1 0 4.1 0a2.05 2.05 0 1 0 -4.1 0M641.95 58.7a2.05 2.05 0 1 0 4.1 0a2.05 2.05 0 1 0 -4.1 0M648.57 58.1a2.05 2.05 0 1 0 4.1 0a2.05 2.05 0 1 0 -4.1 0M655.02 56.9a2.05 2.05 0 1 0 4.1 0a2.05 2.05 0 1 0 -4.1 0M661.28 55.8a2.05 2.05 0 1 0 4.1 0a2.05 2.05 0 1 0 -4.1 0M667.78 54.6a2.05 2.05 0 1 0 4.1 0a2.05 2.05 0 1 0 -4.1 0M674.36 54.6a2.05 2.05 0 1 0 4.1 0a2.05 2.05 0 1 0 -4.1 0M680.91 52.8a2.05 2.05 0 1 0 4.1 0a2.05 2.05 0 1 0 -4.1 0M493.75 92.3a2.05 2.05 0 1 0 4.1 0a2.05 2.05 0 1 0 -4.1 0M498.92 91.2a2.05 2.05 0 1 0 4.1 0a2.05 2.05 0 1 0 -4.1 0M507.97 89.2a2.05 2.05 0 1 0 4.1 0a2.05 2.05 0 1 0 -4.1 0M511.99 88.6a2.05 2.05 0 1 0 4.1 0a2.05 2.05 0 1 0 -4.1 0M519.22 86.9a2.05 2.05 0 1 0 4.1 0a2.05 2.05 0 1 0 -4.1 0M525.61 85.3a2.05 2.05 0 1 0 4.1 0a2.05 2.05 0 1 0 -4.1 0M531.32 84.5a2.05 2.05 0 1 0 4.1 0a2.05 2.05 0 1 0 -4.1 0M538.89 82.4a2.05 2.05 0 1 0 4.1 0a2.05 2.05 0 1 0 -4.1 0M545.54 81.7a2.05 2.05 0 1 0 4.1 0a2.05 2.05 0 1 0 -4.1 0M551.46 80.4a2.05 2.05 0 1 0 4.1 0a2.05 2.05 0 1 0 -4.1 0M558.46 78.8a2.05 2.05 0 1 0 4.1 0a2.05 2.05 0 1 0 -4.1 0M564.66 77.3a2.05 2.05 0 1 0 4.1 0a2.05 2.05 0 1 0 -4.1 0M571.53 75.2a2.05 2.05 0 1 0 4.1 0a2.05 2.05 0 1 0 -4.1 0M577.63 74.5a2.05 2.05 0 1 0 4.1 0a2.05 2.05 0 1 0 -4.1 0M584.14 72.8a2.05 2.05 0 1 0 4.1 0a2.05 2.05 0 1 0 -4.1 0M590.86 71.8a2.05 2.05 0 1 0 4.1 0a2.05 2.05 0 1 0 -4.1 0M596.84 70.3a2.05 2.05 0 1 0 4.1 0a2.05 2.05 0 1 0 -4.1 0M603.68 68.7a2.05 2.05 0 1 0 4.1 0a2.05 2.05 0 1 0 -4.1 0M609.74 67.7a2.05 2.05 0 1 0 4.1 0a2.05 2.05 0 1 0 -4.1 0M616.34 65.6a2.05 2.05 0 1 0 4.1 0a2.05 2.05 0 1 0 -4.1 0M622.72 65.9a2.05 2.05 0 1 0 4.1 0a2.05 2.05 0 1 0 -4.1 0M629.33 64a2.05 2.05 0 1 0 4.1 0a2.05 2.05 0 1 0 -4.1 0M635.61 62.9a2.05 2.05 0 1 0 4.1 0a2.05 2.05 0 1 0 -4.1 0M641.95 62.3a2.05 2.05 0 1 0 4.1 0a2.05 2.05 0 1 0 -4.1 0M648.57 61.7a2.05 2.05 0 1 0 4.1 0a2.05 2.05 0 1 0 -4.1 0M655.02 60.5a2.05 2.05 0 1 0 4.1 0a2.05 2.05 0 1 0 -4.1 0M661.28 59.3a2.05 2.05 0 1 0 4.1 0a2.05 2.05 0 1 0 -4.1 0M667.78 57.5a2.05 2.05 0 1 0 4.1 0a2.05 2.05 0 1 0 -4.1 0M674.36 58.1a2.05 2.05 0 1 0 4.1 0a2.05 2.05 0 1 0 -4.1 0M680.91 55.8a2.05 2.05 0 1 0 4.1 0a2.05 2.05 0 1 0 -4.1 0M493.75 97.1a2.05 2.05 0 1 0 4.1 0a2.05 2.05 0 1 0 -4.1 0M498.92 96.4a2.05 2.05 0 1 0 4.1 0a2.05 2.05 0 1 0 -4.1 0M507.97 94.3a2.05 2.05 0 1 0 4.1 0a2.05 2.05 0 1 0 -4.1 0M511.99 93.8a2.05 2.05 0 1 0 4.1 0a2.05 2.05 0 1 0 -4.1 0M519.22 92a2.05 2.05 0 1 0 4.1 0a2.05 2.05 0 1 0 -4.1 0M525.61 90.2a2.05 2.05 0 1 0 4.1 0a2.05 2.05 0 1 0 -4.1 0M531.32 90.5a2.05 2.05 0 1 0 4.1 0a2.05 2.05 0 1 0 -4.1 0M538.89 86.1a2.05 2.05 0 1 0 4.1 0a2.05 2.05 0 1 0 -4.1 0M545.54 87.3a2.05 2.05 0 1 0 4.1 0a2.05 2.05 0 1 0 -4.1 0M551.46 86.1a2.05 2.05 0 1 0 4.1 0a2.05 2.05 0 1 0 -4.1 0M558.46 84a2.05 2.05 0 1 0 4.1 0a2.05 2.05 0 1 0 -4.1 0M564.66 79.8a2.05 2.05 0 1 0 4.1 0a2.05 2.05 0 1 0 -4.1 0M571.53 80.4a2.05 2.05 0 1 0 4.1 0a2.05 2.05 0 1 0 -4.1 0M577.63 78.1a2.05 2.05 0 1 0 4.1 0a2.05 2.05 0 1 0 -4.1 0M584.14 77.5a2.05 2.05 0 1 0 4.1 0a2.05 2.05 0 1 0 -4.1 0M590.86 76a2.05 2.05 0 1 0 4.1 0a2.05 2.05 0 1 0 -4.1 0M596.84 74.4a2.05 2.05 0 1 0 4.1 0a2.05 2.05 0 1 0 -4.1 0M603.68 72.3a2.05 2.05 0 1 0 4.1 0a2.05 2.05 0 1 0 -4.1 0M609.74 71.3a2.05 2.05 0 1 0 4.1 0a2.05 2.05 0 1 0 -4.1 0M616.34 68.2a2.05 2.05 0 1 0 4.1 0a2.05 2.05 0 1 0 -4.1 0M622.72 69.8a2.05 2.05 0 1 0 4.1 0a2.05 2.05 0 1 0 -4.1 0M629.33 67.6a2.05 2.05 0 1 0 4.1 0a2.05 2.05 0 1 0 -4.1 0M635.61 66.4a2.05 2.05 0 1 0 4.1 0a2.05 2.05 0 1 0 -4.1 0M641.95 65.2a2.05 2.05 0 1 0 4.1 0a2.05 2.05 0 1 0 -4.1 0M648.57 64.6a2.05 2.05 0 1 0 4.1 0a2.05 2.05 0 1 0 -4.1 0M655.02 63.5a2.05 2.05 0 1 0 4.1 0a2.05 2.05 0 1 0 -4.1 0M661.28 62.9a2.05 2.05 0 1 0 4.1 0a2.05 2.05 0 1 0 -4.1 0M667.78 59.9a2.05 2.05 0 1 0 4.1 0a2.05 2.05 0 1 0 -4.1 0M674.36 61.7a2.05 2.05 0 1 0 4.1 0a2.05 2.05 0 1 0 -4.1 0M680.91 58.7a2.05 2.05 0 1 0 4.1 0a2.05 2.05 0 1 0 -4.1 0" fill="#0000ff"/>
<text transform="translate(492.8,11.75) scale(0.92,1)" text-anchor="end" font-size="12">10<tspan dx="-0.5" dy="-5.5" font-size="9.5">1</tspan></text>
<text transform="translate(492.8,80.88) scale(0.92,1)" text-anchor="end" font-size="12">10<tspan dx="-0.5" dy="-5.5" font-size="9.5">0</tspan></text>
<text transform="translate(492.8,150) scale(0.92,1)" text-anchor="end" font-size="12">10<tspan dx="-0.5" dy="-5.5" font-size="9.5">-1</tspan></text>
<text transform="translate(495.8,161) scale(0.92,1)" text-anchor="middle" font-size="12">10<tspan dx="-0.4" dy="-5.5" font-size="9.5">1</tspan></text>
<text transform="translate(620.6,161) scale(0.92,1)" text-anchor="middle" font-size="12">10<tspan dx="-0.4" dy="-5.5" font-size="9.5">2</tspan></text>
<text x="590" y="173.25" text-anchor="middle" font-size="11.2" font-style="italic">s</text>
<text transform="translate(469.4,75.52) rotate(-90)" text-anchor="middle" font-size="12.2" style="stroke:none"><tspan font-style="italic">F</tspan><tspan dy="1.8" font-size="8.6" font-style="italic">zy</tspan><tspan dy="-1.8">(</tspan><tspan font-style="italic">q</tspan>, <tspan font-style="italic">s</tspan>)</text>
<text x="514.1" y="30.5" font-size="10.65">(c) Maize-EPU</text>
<path d="M35 183.1H222.5V321.4H35Z" fill="none" stroke="#737373" stroke-width="1"/>
<path d="M35 321.4v-2.4M35 183.1v2.4M72.63 321.4v-1.3M72.63 183.1v1.3M94.64 321.4v-1.3M94.64 183.1v1.3M110.26 321.4v-1.3M110.26 183.1v1.3M122.37 321.4v-1.3M122.37 183.1v1.3M132.27 321.4v-1.3M132.27 183.1v1.3M140.64 321.4v-1.3M140.64 183.1v1.3M147.89 321.4v-1.3M147.89 183.1v1.3M154.28 321.4v-1.3M154.28 183.1v1.3M160 321.4v-2.4M160 183.1v2.4M197.63 321.4v-1.3M197.63 183.1v1.3M219.64 321.4v-1.3M219.64 183.1v1.3M35 321.4h2.4M222.5 321.4h-2.4M35 300.58h1.3M222.5 300.58h-1.3M35 288.41h1.3M222.5 288.41h-1.3M35 279.77h1.3M222.5 279.77h-1.3M35 273.07h1.3M222.5 273.07h-1.3M35 267.59h1.3M222.5 267.59h-1.3M35 262.96h1.3M222.5 262.96h-1.3M35 258.95h1.3M222.5 258.95h-1.3M35 255.41h1.3M222.5 255.41h-1.3M35 252.25h2.4M222.5 252.25h-2.4M35 231.43h1.3M222.5 231.43h-1.3M35 219.26h1.3M222.5 219.26h-1.3M35 210.62h1.3M222.5 210.62h-1.3M35 203.92h1.3M222.5 203.92h-1.3M35 198.44h1.3M222.5 198.44h-1.3M35 193.81h1.3M222.5 193.81h-1.3M35 189.8h1.3M222.5 189.8h-1.3M35 186.26h1.3M222.5 186.26h-1.3" fill="none" stroke="#737373" stroke-width="1"/>
<polyline points="35,256.4 40.17,255.8 49.24,253.5 53.27,252.9 60.51,251.6 66.91,250.5 72.63,249.5 80.22,248.5 86.87,246.9 92.8,245.9 99.81,244.5 106.03,243.6 112.91,242.6 119.01,241.6 125.53,239.5 132.27,238.4 138.26,237.5 145.1,236.2 151.18,234.9 157.78,234.2 164.18,232.6 170.79,231.6 177.09,230.5 183.44,229.5 190.07,227.9 196.53,227.19 202.8,226.5 209.31,225.2 215.89,224.3 222.46,223.4" fill="none" stroke="#7cbb00" stroke-width="0.9"/>
<polyline points="35,259.8 40.17,258.9 49.24,257.1 53.27,256.5 60.51,255.2 66.91,254.2 72.63,253.1 80.22,252.1 86.87,250.5 92.8,250 99.81,248.4 106.03,247.3 112.91,246.2 119.01,245.2 125.53,243.6 132.27,242 138.26,241.5 145.1,240.2 151.18,238.9 157.78,237.8 164.18,236.2 170.79,235.2 177.09,234.7 183.44,233.6 190.07,232.1 196.53,230.83 202.8,229.6 209.31,228.3 215.89,227.4 222.46,227" fill="none" stroke="#7cbb00" stroke-width="0.9"/>
<polyline points="35,263.8 40.17,262.9 49.24,260.6 53.27,260.3 60.51,258.8 66.91,257.8 72.63,256.7 80.22,255.7 86.87,254.2 92.8,253.6 99.81,252.1 106.03,250.9 112.91,249.8 119.01,248.8 125.53,247.3 132.27,246.3 138.26,245.1 145.1,243.8 151.18,242.9 157.78,241.4 164.18,239.8 170.79,238.8 177.09,238.3 183.44,237.3 190.07,235.7 196.53,233.97 202.8,232.3 209.31,231.4 215.89,231 222.46,230.1" fill="none" stroke="#7cbb00" stroke-width="0.9"/>
<polyline points="35,268.2 40.17,266.9 49.24,264.6 53.27,264.1 60.51,262.4 66.91,261.4 72.63,260.4 80.22,259.3 86.87,257.8 92.8,257.3 99.81,255.9 106.03,254.5 112.91,253.5 119.01,252.4 125.53,250.9 132.27,250.4 138.26,248.7 145.1,247.3 151.18,246.3 157.78,244.5 164.18,243.5 170.79,242.4 177.09,241.4 183.44,240.4 190.07,239.3 196.53,237.57 202.8,235.9 209.31,235 215.89,234.1 222.46,232.7" fill="none" stroke="#7cbb00" stroke-width="0.9"/>
<polyline points="35,272.2 40.17,272.2 49.24,268.2 53.27,268.1 60.51,266.1 66.91,265.5 72.63,263.5 80.22,262.4 86.87,261.4 92.8,260.4 99.81,259.2 106.03,258.1 112.91,257.1 119.01,256.1 125.53,254.5 132.27,254 138.26,252.7 145.1,251.1 151.18,249.5 157.78,247.1 164.18,247.1 170.79,246.1 177.09,244 183.44,242.4 190.07,242.4 196.53,240.67 202.8,239 209.31,238.1 215.89,237.6 222.46,235.4" fill="none" stroke="#7cbb00" stroke-width="0.9"/>
<path d="M32.95 256.4a2.05 2.05 0 1 0 4.1 0a2.05 2.05 0 1 0 -4.1 0M38.12 255.8a2.05 2.05 0 1 0 4.1 0a2.05 2.05 0 1 0 -4.1 0M47.19 253.5a2.05 2.05 0 1 0 4.1 0a2.05 2.05 0 1 0 -4.1 0M51.22 252.9a2.05 2.05 0 1 0 4.1 0a2.05 2.05 0 1 0 -4.1 0M58.46 251.6a2.05 2.05 0 1 0 4.1 0a2.05 2.05 0 1 0 -4.1 0M64.86 250.5a2.05 2.05 0 1 0 4.1 0a2.05 2.05 0 1 0 -4.1 0M70.58 249.5a2.05 2.05 0 1 0 4.1 0a2.05 2.05 0 1 0 -4.1 0M78.17 248.5a2.05 2.05 0 1 0 4.1 0a2.05 2.05 0 1 0 -4.1 0M84.82 246.9a2.05 2.05 0 1 0 4.1 0a2.05 2.05 0 1 0 -4.1 0M90.75 245.9a2.05 2.05 0 1 0 4.1 0a2.05 2.05 0 1 0 -4.1 0M97.76 244.5a2.05 2.05 0 1 0 4.1 0a2.05 2.05 0 1 0 -4.1 0M103.98 243.6a2.05 2.05 0 1 0 4.1 0a2.05 2.05 0 1 0 -4.1 0M110.86 242.6a2.05 2.05 0 1 0 4.1 0a2.05 2.05 0 1 0 -4.1 0M116.96 241.6a2.05 2.05 0 1 0 4.1 0a2.05 2.05 0 1 0 -4.1 0M123.48 239.5a2.05 2.05 0 1 0 4.1 0a2.05 2.05 0 1 0 -4.1 0M130.22 238.4a2.05 2.05 0 1 0 4.1 0a2.05 2.05 0 1 0 -4.1 0M136.21 237.5a2.05 2.05 0 1 0 4.1 0a2.05 2.05 0 1 0 -4.1 0M143.05 236.2a2.05 2.05 0 1 0 4.1 0a2.05 2.05 0 1 0 -4.1 0M149.13 234.9a2.05 2.05 0 1 0 4.1 0a2.05 2.05 0 1 0 -4.1 0M155.73 234.2a2.05 2.05 0 1 0 4.1 0a2.05 2.05 0 1 0 -4.1 0M162.13 232.6a2.05 2.05 0 1 0 4.1 0a2.05 2.05 0 1 0 -4.1 0M168.74 231.6a2.05 2.05 0 1 0 4.1 0a2.05 2.05 0 1 0 -4.1 0M175.04 230.5a2.05 2.05 0 1 0 4.1 0a2.05 2.05 0 1 0 -4.1 0M181.39 229.5a2.05 2.05 0 1 0 4.1 0a2.05 2.05 0 1 0 -4.1 0M188.02 227.9a2.05 2.05 0 1 0 4.1 0a2.05 2.05 0 1 0 -4.1 0M194.48 227.19a2.05 2.05 0 1 0 4.1 0a2.05 2.05 0 1 0 -4.1 0M200.75 226.5a2.05 2.05 0 1 0 4.1 0a2.05 2.05 0 1 0 -4.1 0M207.26 225.2a2.05 2.05 0 1 0 4.1 0a2.05 2.05 0 1 0 -4.1 0M213.84 224.3a2.05 2.05 0 1 0 4.1 0a2.05 2.05 0 1 0 -4.1 0M220.41 223.4a2.05 2.05 0 1 0 4.1 0a2.05 2.05 0 1 0 -4.1 0M32.95 259.8a2.05 2.05 0 1 0 4.1 0a2.05 2.05 0 1 0 -4.1 0M38.12 258.9a2.05 2.05 0 1 0 4.1 0a2.05 2.05 0 1 0 -4.1 0M47.19 257.1a2.05 2.05 0 1 0 4.1 0a2.05 2.05 0 1 0 -4.1 0M51.22 256.5a2.05 2.05 0 1 0 4.1 0a2.05 2.05 0 1 0 -4.1 0M58.46 255.2a2.05 2.05 0 1 0 4.1 0a2.05 2.05 0 1 0 -4.1 0M64.86 254.2a2.05 2.05 0 1 0 4.1 0a2.05 2.05 0 1 0 -4.1 0M70.58 253.1a2.05 2.05 0 1 0 4.1 0a2.05 2.05 0 1 0 -4.1 0M78.17 252.1a2.05 2.05 0 1 0 4.1 0a2.05 2.05 0 1 0 -4.1 0M84.82 250.5a2.05 2.05 0 1 0 4.1 0a2.05 2.05 0 1 0 -4.1 0M90.75 250a2.05 2.05 0 1 0 4.1 0a2.05 2.05 0 1 0 -4.1 0M97.76 248.4a2.05 2.05 0 1 0 4.1 0a2.05 2.05 0 1 0 -4.1 0M103.98 247.3a2.05 2.05 0 1 0 4.1 0a2.05 2.05 0 1 0 -4.1 0M110.86 246.2a2.05 2.05 0 1 0 4.1 0a2.05 2.05 0 1 0 -4.1 0M116.96 245.2a2.05 2.05 0 1 0 4.1 0a2.05 2.05 0 1 0 -4.1 0M123.48 243.6a2.05 2.05 0 1 0 4.1 0a2.05 2.05 0 1 0 -4.1 0M130.22 242a2.05 2.05 0 1 0 4.1 0a2.05 2.05 0 1 0 -4.1 0M136.21 241.5a2.05 2.05 0 1 0 4.1 0a2.05 2.05 0 1 0 -4.1 0M143.05 240.2a2.05 2.05 0 1 0 4.1 0a2.05 2.05 0 1 0 -4.1 0M149.13 238.9a2.05 2.05 0 1 0 4.1 0a2.05 2.05 0 1 0 -4.1 0M155.73 237.8a2.05 2.05 0 1 0 4.1 0a2.05 2.05 0 1 0 -4.1 0M162.13 236.2a2.05 2.05 0 1 0 4.1 0a2.05 2.05 0 1 0 -4.1 0M168.74 235.2a2.05 2.05 0 1 0 4.1 0a2.05 2.05 0 1 0 -4.1 0M175.04 234.7a2.05 2.05 0 1 0 4.1 0a2.05 2.05 0 1 0 -4.1 0M181.39 233.6a2.05 2.05 0 1 0 4.1 0a2.05 2.05 0 1 0 -4.1 0M188.02 232.1a2.05 2.05 0 1 0 4.1 0a2.05 2.05 0 1 0 -4.1 0M194.48 230.83a2.05 2.05 0 1 0 4.1 0a2.05 2.05 0 1 0 -4.1 0M200.75 229.6a2.05 2.05 0 1 0 4.1 0a2.05 2.05 0 1 0 -4.1 0M207.26 228.3a2.05 2.05 0 1 0 4.1 0a2.05 2.05 0 1 0 -4.1 0M213.84 227.4a2.05 2.05 0 1 0 4.1 0a2.05 2.05 0 1 0 -4.1 0M220.41 227a2.05 2.05 0 1 0 4.1 0a2.05 2.05 0 1 0 -4.1 0M32.95 263.8a2.05 2.05 0 1 0 4.1 0a2.05 2.05 0 1 0 -4.1 0M38.12 262.9a2.05 2.05 0 1 0 4.1 0a2.05 2.05 0 1 0 -4.1 0M47.19 260.6a2.05 2.05 0 1 0 4.1 0a2.05 2.05 0 1 0 -4.1 0M51.22 260.3a2.05 2.05 0 1 0 4.1 0a2.05 2.05 0 1 0 -4.1 0M58.46 258.8a2.05 2.05 0 1 0 4.1 0a2.05 2.05 0 1 0 -4.1 0M64.86 257.8a2.05 2.05 0 1 0 4.1 0a2.05 2.05 0 1 0 -4.1 0M70.58 256.7a2.05 2.05 0 1 0 4.1 0a2.05 2.05 0 1 0 -4.1 0M78.17 255.7a2.05 2.05 0 1 0 4.1 0a2.05 2.05 0 1 0 -4.1 0M84.82 254.2a2.05 2.05 0 1 0 4.1 0a2.05 2.05 0 1 0 -4.1 0M90.75 253.6a2.05 2.05 0 1 0 4.1 0a2.05 2.05 0 1 0 -4.1 0M97.76 252.1a2.05 2.05 0 1 0 4.1 0a2.05 2.05 0 1 0 -4.1 0M103.98 250.9a2.05 2.05 0 1 0 4.1 0a2.05 2.05 0 1 0 -4.1 0M110.86 249.8a2.05 2.05 0 1 0 4.1 0a2.05 2.05 0 1 0 -4.1 0M116.96 248.8a2.05 2.05 0 1 0 4.1 0a2.05 2.05 0 1 0 -4.1 0M123.48 247.3a2.05 2.05 0 1 0 4.1 0a2.05 2.05 0 1 0 -4.1 0M130.22 246.3a2.05 2.05 0 1 0 4.1 0a2.05 2.05 0 1 0 -4.1 0M136.21 245.1a2.05 2.05 0 1 0 4.1 0a2.05 2.05 0 1 0 -4.1 0M143.05 243.8a2.05 2.05 0 1 0 4.1 0a2.05 2.05 0 1 0 -4.1 0M149.13 242.9a2.05 2.05 0 1 0 4.1 0a2.05 2.05 0 1 0 -4.1 0M155.73 241.4a2.05 2.05 0 1 0 4.1 0a2.05 2.05 0 1 0 -4.1 0M162.13 239.8a2.05 2.05 0 1 0 4.1 0a2.05 2.05 0 1 0 -4.1 0M168.74 238.8a2.05 2.05 0 1 0 4.1 0a2.05 2.05 0 1 0 -4.1 0M175.04 238.3a2.05 2.05 0 1 0 4.1 0a2.05 2.05 0 1 0 -4.1 0M181.39 237.3a2.05 2.05 0 1 0 4.1 0a2.05 2.05 0 1 0 -4.1 0M188.02 235.7a2.05 2.05 0 1 0 4.1 0a2.05 2.05 0 1 0 -4.1 0M194.48 233.97a2.05 2.05 0 1 0 4.1 0a2.05 2.05 0 1 0 -4.1 0M200.75 232.3a2.05 2.05 0 1 0 4.1 0a2.05 2.05 0 1 0 -4.1 0M207.26 231.4a2.05 2.05 0 1 0 4.1 0a2.05 2.05 0 1 0 -4.1 0M213.84 231a2.05 2.05 0 1 0 4.1 0a2.05 2.05 0 1 0 -4.1 0M220.41 230.1a2.05 2.05 0 1 0 4.1 0a2.05 2.05 0 1 0 -4.1 0M32.95 268.2a2.05 2.05 0 1 0 4.1 0a2.05 2.05 0 1 0 -4.1 0M38.12 266.9a2.05 2.05 0 1 0 4.1 0a2.05 2.05 0 1 0 -4.1 0M47.19 264.6a2.05 2.05 0 1 0 4.1 0a2.05 2.05 0 1 0 -4.1 0M51.22 264.1a2.05 2.05 0 1 0 4.1 0a2.05 2.05 0 1 0 -4.1 0M58.46 262.4a2.05 2.05 0 1 0 4.1 0a2.05 2.05 0 1 0 -4.1 0M64.86 261.4a2.05 2.05 0 1 0 4.1 0a2.05 2.05 0 1 0 -4.1 0M70.58 260.4a2.05 2.05 0 1 0 4.1 0a2.05 2.05 0 1 0 -4.1 0M78.17 259.3a2.05 2.05 0 1 0 4.1 0a2.05 2.05 0 1 0 -4.1 0M84.82 257.8a2.05 2.05 0 1 0 4.1 0a2.05 2.05 0 1 0 -4.1 0M90.75 257.3a2.05 2.05 0 1 0 4.1 0a2.05 2.05 0 1 0 -4.1 0M97.76 255.9a2.05 2.05 0 1 0 4.1 0a2.05 2.05 0 1 0 -4.1 0M103.98 254.5a2.05 2.05 0 1 0 4.1 0a2.05 2.05 0 1 0 -4.1 0M110.86 253.5a2.05 2.05 0 1 0 4.1 0a2.05 2.05 0 1 0 -4.1 0M116.96 252.4a2.05 2.05 0 1 0 4.1 0a2.05 2.05 0 1 0 -4.1 0M123.48 250.9a2.05 2.05 0 1 0 4.1 0a2.05 2.05 0 1 0 -4.1 0M130.22 250.4a2.05 2.05 0 1 0 4.1 0a2.05 2.05 0 1 0 -4.1 0M136.21 248.7a2.05 2.05 0 1 0 4.1 0a2.05 2.05 0 1 0 -4.1 0M143.05 247.3a2.05 2.05 0 1 0 4.1 0a2.05 2.05 0 1 0 -4.1 0M149.13 246.3a2.05 2.05 0 1 0 4.1 0a2.05 2.05 0 1 0 -4.1 0M155.73 244.5a2.05 2.05 0 1 0 4.1 0a2.05 2.05 0 1 0 -4.1 0M162.13 243.5a2.05 2.05 0 1 0 4.1 0a2.05 2.05 0 1 0 -4.1 0M168.74 242.4a2.05 2.05 0 1 0 4.1 0a2.05 2.05 0 1 0 -4.1 0M175.04 241.4a2.05 2.05 0 1 0 4.1 0a2.05 2.05 0 1 0 -4.1 0M181.39 240.4a2.05 2.05 0 1 0 4.1 0a2.05 2.05 0 1 0 -4.1 0M188.02 239.3a2.05 2.05 0 1 0 4.1 0a2.05 2.05 0 1 0 -4.1 0M194.48 237.57a2.05 2.05 0 1 0 4.1 0a2.05 2.05 0 1 0 -4.1 0M200.75 235.9a2.05 2.05 0 1 0 4.1 0a2.05 2.05 0 1 0 -4.1 0M207.26 235a2.05 2.05 0 1 0 4.1 0a2.05 2.05 0 1 0 -4.1 0M213.84 234.1a2.05 2.05 0 1 0 4.1 0a2.05 2.05 0 1 0 -4.1 0M220.41 232.7a2.05 2.05 0 1 0 4.1 0a2.05 2.05 0 1 0 -4.1 0M32.95 272.2a2.05 2.05 0 1 0 4.1 0a2.05 2.05 0 1 0 -4.1 0M38.12 272.2a2.05 2.05 0 1 0 4.1 0a2.05 2.05 0 1 0 -4.1 0M47.19 268.2a2.05 2.05 0 1 0 4.1 0a2.05 2.05 0 1 0 -4.1 0M51.22 268.1a2.05 2.05 0 1 0 4.1 0a2.05 2.05 0 1 0 -4.1 0M58.46 266.1a2.05 2.05 0 1 0 4.1 0a2.05 2.05 0 1 0 -4.1 0M64.86 265.5a2.05 2.05 0 1 0 4.1 0a2.05 2.05 0 1 0 -4.1 0M70.58 263.5a2.05 2.05 0 1 0 4.1 0a2.05 2.05 0 1 0 -4.1 0M78.17 262.4a2.05 2.05 0 1 0 4.1 0a2.05 2.05 0 1 0 -4.1 0M84.82 261.4a2.05 2.05 0 1 0 4.1 0a2.05 2.05 0 1 0 -4.1 0M90.75 260.4a2.05 2.05 0 1 0 4.1 0a2.05 2.05 0 1 0 -4.1 0M97.76 259.2a2.05 2.05 0 1 0 4.1 0a2.05 2.05 0 1 0 -4.1 0M103.98 258.1a2.05 2.05 0 1 0 4.1 0a2.05 2.05 0 1 0 -4.1 0M110.86 257.1a2.05 2.05 0 1 0 4.1 0a2.05 2.05 0 1 0 -4.1 0M116.96 256.1a2.05 2.05 0 1 0 4.1 0a2.05 2.05 0 1 0 -4.1 0M123.48 254.5a2.05 2.05 0 1 0 4.1 0a2.05 2.05 0 1 0 -4.1 0M130.22 254a2.05 2.05 0 1 0 4.1 0a2.05 2.05 0 1 0 -4.1 0M136.21 252.7a2.05 2.05 0 1 0 4.1 0a2.05 2.05 0 1 0 -4.1 0M143.05 251.1a2.05 2.05 0 1 0 4.1 0a2.05 2.05 0 1 0 -4.1 0M149.13 249.5a2.05 2.05 0 1 0 4.1 0a2.05 2.05 0 1 0 -4.1 0M155.73 247.1a2.05 2.05 0 1 0 4.1 0a2.05 2.05 0 1 0 -4.1 0M162.13 247.1a2.05 2.05 0 1 0 4.1 0a2.05 2.05 0 1 0 -4.1 0M168.74 246.1a2.05 2.05 0 1 0 4.1 0a2.05 2.05 0 1 0 -4.1 0M175.04 244a2.05 2.05 0 1 0 4.1 0a2.05 2.05 0 1 0 -4.1 0M181.39 242.4a2.05 2.05 0 1 0 4.1 0a2.05 2.05 0 1 0 -4.1 0M188.02 242.4a2.05 2.05 0 1 0 4.1 0a2.05 2.05 0 1 0 -4.1 0M194.48 240.67a2.05 2.05 0 1 0 4.1 0a2.05 2.05 0 1 0 -4.1 0M200.75 239a2.05 2.05 0 1 0 4.1 0a2.05 2.05 0 1 0 -4.1 0M207.26 238.1a2.05 2.05 0 1 0 4.1 0a2.05 2.05 0 1 0 -4.1 0M213.84 237.6a2.05 2.05 0 1 0 4.1 0a2.05 2.05 0 1 0 -4.1 0M220.41 235.4a2.05 2.05 0 1 0 4.1 0a2.05 2.05 0 1 0 -4.1 0" fill="#7cbb00"/>
<text transform="translate(32,188.75) scale(0.92,1)" text-anchor="end" font-size="12">10<tspan dx="-0.5" dy="-5.5" font-size="9.5">1</tspan></text>
<text transform="translate(32,257.9) scale(0.92,1)" text-anchor="end" font-size="12">10<tspan dx="-0.5" dy="-5.5" font-size="9.5">0</tspan></text>
<text transform="translate(32,327.05) scale(0.92,1)" text-anchor="end" font-size="12">10<tspan dx="-0.5" dy="-5.5" font-size="9.5">-1</tspan></text>
<text transform="translate(35,338.05) scale(0.92,1)" text-anchor="middle" font-size="12">10<tspan dx="-0.4" dy="-5.5" font-size="9.5">1</tspan></text>
<text transform="translate(160,338.05) scale(0.92,1)" text-anchor="middle" font-size="12">10<tspan dx="-0.4" dy="-5.5" font-size="9.5">2</tspan></text>
<text transform="translate(8.6,252.55) rotate(-90)" text-anchor="middle" font-size="12.2" style="stroke:none"><tspan font-style="italic">F</tspan><tspan dy="1.8" font-size="8.6" font-style="italic">zy</tspan><tspan dy="-1.8">(</tspan><tspan font-style="italic">q</tspan>, <tspan font-style="italic">s</tspan>)</text>
<text x="53.3" y="207.5" font-size="10.65">(d) Soyabeans-EPU</text>
<path d="M265.5 183.1H452.5V321.4H265.5Z" fill="none" stroke="#737373" stroke-width="1"/>
<path d="M265.5 321.4v-2.4M265.5 183.1v2.4M303.03 321.4v-1.3M303.03 183.1v1.3M324.98 321.4v-1.3M324.98 183.1v1.3M340.56 321.4v-1.3M340.56 183.1v1.3M352.64 321.4v-1.3M352.64 183.1v1.3M362.51 321.4v-1.3M362.51 183.1v1.3M370.86 321.4v-1.3M370.86 183.1v1.3M378.09 321.4v-1.3M378.09 183.1v1.3M384.46 321.4v-1.3M384.46 183.1v1.3M390.17 321.4v-2.4M390.17 183.1v2.4M427.7 321.4v-1.3M427.7 183.1v1.3M449.65 321.4v-1.3M449.65 183.1v1.3M265.5 321.4h2.4M452.5 321.4h-2.4M265.5 300.58h1.3M452.5 300.58h-1.3M265.5 288.41h1.3M452.5 288.41h-1.3M265.5 279.77h1.3M452.5 279.77h-1.3M265.5 273.07h1.3M452.5 273.07h-1.3M265.5 267.59h1.3M452.5 267.59h-1.3M265.5 262.96h1.3M452.5 262.96h-1.3M265.5 258.95h1.3M452.5 258.95h-1.3M265.5 255.41h1.3M452.5 255.41h-1.3M265.5 252.25h2.4M452.5 252.25h-2.4M265.5 231.43h1.3M452.5 231.43h-1.3M265.5 219.26h1.3M452.5 219.26h-1.3M265.5 210.62h1.3M452.5 210.62h-1.3M265.5 203.92h1.3M452.5 203.92h-1.3M265.5 198.44h1.3M452.5 198.44h-1.3M265.5 193.81h1.3M452.5 193.81h-1.3M265.5 189.8h1.3M452.5 189.8h-1.3M265.5 186.26h1.3M452.5 186.26h-1.3" fill="none" stroke="#737373" stroke-width="1"/>
<polyline points="265.5,264.6 270.66,263.6 279.7,260.6 283.72,260.1 290.95,257.7 297.32,255.7 303.03,254.3 310.6,252.6 317.23,250.4 323.15,249.3 330.14,247.2 336.34,246.1 343.2,243.9 349.29,242.3 355.79,241.2 362.51,239.6 368.48,238.8 375.31,236.1 381.37,235.6 387.96,233.9 394.33,232.8 400.93,232.3 407.21,231.6 413.54,230.7 420.16,230.7 426.6,229 432.86,227.9 439.34,227 445.91,225.4 452.46,224.6" fill="none" stroke="#5e35b1" stroke-width="0.9"/>
<polyline points="265.5,273.4 270.66,271.9 279.7,269 283.72,268.3 290.95,266.6 297.32,264.6 303.03,263.1 310.6,261.3 317.23,259.4 323.15,257.8 330.14,255.8 336.34,254.8 343.2,252.9 349.29,251.3 355.79,249.6 362.51,248.1 368.48,246.5 375.31,244.8 381.37,244.2 387.96,242.1 394.33,240.9 400.93,239.6 407.21,238.5 413.54,237.6 420.16,236.5 426.6,235.6 432.86,234.3 439.34,233.2 445.91,232 452.46,230.6" fill="none" stroke="#5e35b1" stroke-width="0.9"/>
<polyline points="265.5,281.2 270.66,279.6 279.7,276.7 283.72,275.9 290.95,274.3 297.32,272.3 303.03,270.7 310.6,268.8 317.23,266.7 323.15,265.1 330.14,263.5 336.34,261.8 343.2,260.2 349.29,259.1 355.79,257.2 362.51,255.6 368.48,255.1 375.31,253.9 381.37,251.8 387.96,249.7 394.33,248.1 400.93,246.5 407.21,245.5 413.54,243.3 420.16,242.9 426.6,241.6 432.86,240.3 439.34,238.7 445.91,238.7 452.46,236.3" fill="none" stroke="#5e35b1" stroke-width="0.9"/>
<polyline points="265.5,288.6 270.66,287.3 279.7,283.6 283.72,282.9 290.95,281.6 297.32,279.2 303.03,277.6 310.6,275.3 317.23,273.2 323.15,271.1 330.14,269.1 336.34,266.7 343.2,265.1 349.29,263.9 355.79,262 362.51,261.1 368.48,260 375.31,258.8 381.37,257.5 387.96,255.9 394.33,254.3 400.93,251 407.21,250.6 413.54,248.2 420.16,248 426.6,246.3 432.86,245.6 439.34,242.3 445.91,244.9 452.46,240" fill="none" stroke="#5e35b1" stroke-width="0.9"/>
<polyline points="265.5,296.9 270.66,295.2 279.7,290.2 283.72,288.2 290.95,286.3 297.32,286.5 303.03,283 310.6,283.5 317.23,278.1 323.15,277.3 330.14,274 336.34,268.3 343.2,268.3 349.29,266.7 355.79,265 362.51,264.8 368.48,264 375.31,263.2 381.37,262.1 387.96,260 394.33,258.8 400.93,255.6 407.21,255.2 413.54,253.3 420.16,253.6 426.6,250.2 432.86,248.2 439.34,245.3 445.91,250.2 452.46,242.9" fill="none" stroke="#5e35b1" stroke-width="0.9"/>
<path d="M263.45 264.6a2.05 2.05 0 1 0 4.1 0a2.05 2.05 0 1 0 -4.1 0M268.61 263.6a2.05 2.05 0 1 0 4.1 0a2.05 2.05 0 1 0 -4.1 0M277.65 260.6a2.05 2.05 0 1 0 4.1 0a2.05 2.05 0 1 0 -4.1 0M281.67 260.1a2.05 2.05 0 1 0 4.1 0a2.05 2.05 0 1 0 -4.1 0M288.9 257.7a2.05 2.05 0 1 0 4.1 0a2.05 2.05 0 1 0 -4.1 0M295.27 255.7a2.05 2.05 0 1 0 4.1 0a2.05 2.05 0 1 0 -4.1 0M300.98 254.3a2.05 2.05 0 1 0 4.1 0a2.05 2.05 0 1 0 -4.1 0M308.55 252.6a2.05 2.05 0 1 0 4.1 0a2.05 2.05 0 1 0 -4.1 0M315.18 250.4a2.05 2.05 0 1 0 4.1 0a2.05 2.05 0 1 0 -4.1 0M321.1 249.3a2.05 2.05 0 1 0 4.1 0a2.05 2.05 0 1 0 -4.1 0M328.09 247.2a2.05 2.05 0 1 0 4.1 0a2.05 2.05 0 1 0 -4.1 0M334.29 246.1a2.05 2.05 0 1 0 4.1 0a2.05 2.05 0 1 0 -4.1 0M341.15 243.9a2.05 2.05 0 1 0 4.1 0a2.05 2.05 0 1 0 -4.1 0M347.24 242.3a2.05 2.05 0 1 0 4.1 0a2.05 2.05 0 1 0 -4.1 0M353.74 241.2a2.05 2.05 0 1 0 4.1 0a2.05 2.05 0 1 0 -4.1 0M360.46 239.6a2.05 2.05 0 1 0 4.1 0a2.05 2.05 0 1 0 -4.1 0M366.43 238.8a2.05 2.05 0 1 0 4.1 0a2.05 2.05 0 1 0 -4.1 0M373.26 236.1a2.05 2.05 0 1 0 4.1 0a2.05 2.05 0 1 0 -4.1 0M379.32 235.6a2.05 2.05 0 1 0 4.1 0a2.05 2.05 0 1 0 -4.1 0M385.91 233.9a2.05 2.05 0 1 0 4.1 0a2.05 2.05 0 1 0 -4.1 0M392.28 232.8a2.05 2.05 0 1 0 4.1 0a2.05 2.05 0 1 0 -4.1 0M398.88 232.3a2.05 2.05 0 1 0 4.1 0a2.05 2.05 0 1 0 -4.1 0M405.16 231.6a2.05 2.05 0 1 0 4.1 0a2.05 2.05 0 1 0 -4.1 0M411.49 230.7a2.05 2.05 0 1 0 4.1 0a2.05 2.05 0 1 0 -4.1 0M418.11 230.7a2.05 2.05 0 1 0 4.1 0a2.05 2.05 0 1 0 -4.1 0M424.55 229a2.05 2.05 0 1 0 4.1 0a2.05 2.05 0 1 0 -4.1 0M430.81 227.9a2.05 2.05 0 1 0 4.1 0a2.05 2.05 0 1 0 -4.1 0M437.29 227a2.05 2.05 0 1 0 4.1 0a2.05 2.05 0 1 0 -4.1 0M443.86 225.4a2.05 2.05 0 1 0 4.1 0a2.05 2.05 0 1 0 -4.1 0M450.41 224.6a2.05 2.05 0 1 0 4.1 0a2.05 2.05 0 1 0 -4.1 0M263.45 273.4a2.05 2.05 0 1 0 4.1 0a2.05 2.05 0 1 0 -4.1 0M268.61 271.9a2.05 2.05 0 1 0 4.1 0a2.05 2.05 0 1 0 -4.1 0M277.65 269a2.05 2.05 0 1 0 4.1 0a2.05 2.05 0 1 0 -4.1 0M281.67 268.3a2.05 2.05 0 1 0 4.1 0a2.05 2.05 0 1 0 -4.1 0M288.9 266.6a2.05 2.05 0 1 0 4.1 0a2.05 2.05 0 1 0 -4.1 0M295.27 264.6a2.05 2.05 0 1 0 4.1 0a2.05 2.05 0 1 0 -4.1 0M300.98 263.1a2.05 2.05 0 1 0 4.1 0a2.05 2.05 0 1 0 -4.1 0M308.55 261.3a2.05 2.05 0 1 0 4.1 0a2.05 2.05 0 1 0 -4.1 0M315.18 259.4a2.05 2.05 0 1 0 4.1 0a2.05 2.05 0 1 0 -4.1 0M321.1 257.8a2.05 2.05 0 1 0 4.1 0a2.05 2.05 0 1 0 -4.1 0M328.09 255.8a2.05 2.05 0 1 0 4.1 0a2.05 2.05 0 1 0 -4.1 0M334.29 254.8a2.05 2.05 0 1 0 4.1 0a2.05 2.05 0 1 0 -4.1 0M341.15 252.9a2.05 2.05 0 1 0 4.1 0a2.05 2.05 0 1 0 -4.1 0M347.24 251.3a2.05 2.05 0 1 0 4.1 0a2.05 2.05 0 1 0 -4.1 0M353.74 249.6a2.05 2.05 0 1 0 4.1 0a2.05 2.05 0 1 0 -4.1 0M360.46 248.1a2.05 2.05 0 1 0 4.1 0a2.05 2.05 0 1 0 -4.1 0M366.43 246.5a2.05 2.05 0 1 0 4.1 0a2.05 2.05 0 1 0 -4.1 0M373.26 244.8a2.05 2.05 0 1 0 4.1 0a2.05 2.05 0 1 0 -4.1 0M379.32 244.2a2.05 2.05 0 1 0 4.1 0a2.05 2.05 0 1 0 -4.1 0M385.91 242.1a2.05 2.05 0 1 0 4.1 0a2.05 2.05 0 1 0 -4.1 0M392.28 240.9a2.05 2.05 0 1 0 4.1 0a2.05 2.05 0 1 0 -4.1 0M398.88 239.6a2.05 2.05 0 1 0 4.1 0a2.05 2.05 0 1 0 -4.1 0M405.16 238.5a2.05 2.05 0 1 0 4.1 0a2.05 2.05 0 1 0 -4.1 0M411.49 237.6a2.05 2.05 0 1 0 4.1 0a2.05 2.05 0 1 0 -4.1 0M418.11 236.5a2.05 2.05 0 1 0 4.1 0a2.05 2.05 0 1 0 -4.1 0M424.55 235.6a2.05 2.05 0 1 0 4.1 0a2.05 2.05 0 1 0 -4.1 0M430.81 234.3a2.05 2.05 0 1 0 4.1 0a2.05 2.05 0 1 0 -4.1 0M437.29 233.2a2.05 2.05 0 1 0 4.1 0a2.05 2.05 0 1 0 -4.1 0M443.86 232a2.05 2.05 0 1 0 4.1 0a2.05 2.05 0 1 0 -4.1 0M450.41 230.6a2.05 2.05 0 1 0 4.1 0a2.05 2.05 0 1 0 -4.1 0M263.45 281.2a2.05 2.05 0 1 0 4.1 0a2.05 2.05 0 1 0 -4.1 0M268.61 279.6a2.05 2.05 0 1 0 4.1 0a2.05 2.05 0 1 0 -4.1 0M277.65 276.7a2.05 2.05 0 1 0 4.1 0a2.05 2.05 0 1 0 -4.1 0M281.67 275.9a2.05 2.05 0 1 0 4.1 0a2.05 2.05 0 1 0 -4.1 0M288.9 274.3a2.05 2.05 0 1 0 4.1 0a2.05 2.05 0 1 0 -4.1 0M295.27 272.3a2.05 2.05 0 1 0 4.1 0a2.05 2.05 0 1 0 -4.1 0M300.98 270.7a2.05 2.05 0 1 0 4.1 0a2.05 2.05 0 1 0 -4.1 0M308.55 268.8a2.05 2.05 0 1 0 4.1 0a2.05 2.05 0 1 0 -4.1 0M315.18 266.7a2.05 2.05 0 1 0 4.1 0a2.05 2.05 0 1 0 -4.1 0M321.1 265.1a2.05 2.05 0 1 0 4.1 0a2.05 2.05 0 1 0 -4.1 0M328.09 263.5a2.05 2.05 0 1 0 4.1 0a2.05 2.05 0 1 0 -4.1 0M334.29 261.8a2.05 2.05 0 1 0 4.1 0a2.05 2.05 0 1 0 -4.1 0M341.15 260.2a2.05 2.05 0 1 0 4.1 0a2.05 2.05 0 1 0 -4.1 0M347.24 259.1a2.05 2.05 0 1 0 4.1 0a2.05 2.05 0 1 0 -4.1 0M353.74 257.2a2.05 2.05 0 1 0 4.1 0a2.05 2.05 0 1 0 -4.1 0M360.46 255.6a2.05 2.05 0 1 0 4.1 0a2.05 2.05 0 1 0 -4.1 0M366.43 255.1a2.05 2.05 0 1 0 4.1 0a2.05 2.05 0 1 0 -4.1 0M373.26 253.9a2.05 2.05 0 1 0 4.1 0a2.05 2.05 0 1 0 -4.1 0M379.32 251.8a2.05 2.05 0 1 0 4.1 0a2.05 2.05 0 1 0 -4.1 0M385.91 249.7a2.05 2.05 0 1 0 4.1 0a2.05 2.05 0 1 0 -4.1 0M392.28 248.1a2.05 2.05 0 1 0 4.1 0a2.05 2.05 0 1 0 -4.1 0M398.88 246.5a2.05 2.05 0 1 0 4.1 0a2.05 2.05 0 1 0 -4.1 0M405.16 245.5a2.05 2.05 0 1 0 4.1 0a2.05 2.05 0 1 0 -4.1 0M411.49 243.3a2.05 2.05 0 1 0 4.1 0a2.05 2.05 0 1 0 -4.1 0M418.11 242.9a2.05 2.05 0 1 0 4.1 0a2.05 2.05 0 1 0 -4.1 0M424.55 241.6a2.05 2.05 0 1 0 4.1 0a2.05 2.05 0 1 0 -4.1 0M430.81 240.3a2.05 2.05 0 1 0 4.1 0a2.05 2.05 0 1 0 -4.1 0M437.29 238.7a2.05 2.05 0 1 0 4.1 0a2.05 2.05 0 1 0 -4.1 0M443.86 238.7a2.05 2.05 0 1 0 4.1 0a2.05 2.05 0 1 0 -4.1 0M450.41 236.3a2.05 2.05 0 1 0 4.1 0a2.05 2.05 0 1 0 -4.1 0M263.45 288.6a2.05 2.05 0 1 0 4.1 0a2.05 2.05 0 1 0 -4.1 0M268.61 287.3a2.05 2.05 0 1 0 4.1 0a2.05 2.05 0 1 0 -4.1 0M277.65 283.6a2.05 2.05 0 1 0 4.1 0a2.05 2.05 0 1 0 -4.1 0M281.67 282.9a2.05 2.05 0 1 0 4.1 0a2.05 2.05 0 1 0 -4.1 0M288.9 281.6a2.05 2.05 0 1 0 4.1 0a2.05 2.05 0 1 0 -4.1 0M295.27 279.2a2.05 2.05 0 1 0 4.1 0a2.05 2.05 0 1 0 -4.1 0M300.98 277.6a2.05 2.05 0 1 0 4.1 0a2.05 2.05 0 1 0 -4.1 0M308.55 275.3a2.05 2.05 0 1 0 4.1 0a2.05 2.05 0 1 0 -4.1 0M315.18 273.2a2.05 2.05 0 1 0 4.1 0a2.05 2.05 0 1 0 -4.1 0M321.1 271.1a2.05 2.05 0 1 0 4.1 0a2.05 2.05 0 1 0 -4.1 0M328.09 269.1a2.05 2.05 0 1 0 4.1 0a2.05 2.05 0 1 0 -4.1 0M334.29 266.7a2.05 2.05 0 1 0 4.1 0a2.05 2.05 0 1 0 -4.1 0M341.15 265.1a2.05 2.05 0 1 0 4.1 0a2.05 2.05 0 1 0 -4.1 0M347.24 263.9a2.05 2.05 0 1 0 4.1 0a2.05 2.05 0 1 0 -4.1 0M353.74 262a2.05 2.05 0 1 0 4.1 0a2.05 2.05 0 1 0 -4.1 0M360.46 261.1a2.05 2.05 0 1 0 4.1 0a2.05 2.05 0 1 0 -4.1 0M366.43 260a2.05 2.05 0 1 0 4.1 0a2.05 2.05 0 1 0 -4.1 0M373.26 258.8a2.05 2.05 0 1 0 4.1 0a2.05 2.05 0 1 0 -4.1 0M379.32 257.5a2.05 2.05 0 1 0 4.1 0a2.05 2.05 0 1 0 -4.1 0M385.91 255.9a2.05 2.05 0 1 0 4.1 0a2.05 2.05 0 1 0 -4.1 0M392.28 254.3a2.05 2.05 0 1 0 4.1 0a2.05 2.05 0 1 0 -4.1 0M398.88 251a2.05 2.05 0 1 0 4.1 0a2.05 2.05 0 1 0 -4.1 0M405.16 250.6a2.05 2.05 0 1 0 4.1 0a2.05 2.05 0 1 0 -4.1 0M411.49 248.2a2.05 2.05 0 1 0 4.1 0a2.05 2.05 0 1 0 -4.1 0M418.11 248a2.05 2.05 0 1 0 4.1 0a2.05 2.05 0 1 0 -4.1 0M424.55 246.3a2.05 2.05 0 1 0 4.1 0a2.05 2.05 0 1 0 -4.1 0M430.81 245.6a2.05 2.05 0 1 0 4.1 0a2.05 2.05 0 1 0 -4.1 0M437.29 242.3a2.05 2.05 0 1 0 4.1 0a2.05 2.05 0 1 0 -4.1 0M443.86 244.9a2.05 2.05 0 1 0 4.1 0a2.05 2.05 0 1 0 -4.1 0M450.41 240a2.05 2.05 0 1 0 4.1 0a2.05 2.05 0 1 0 -4.1 0M263.45 296.9a2.05 2.05 0 1 0 4.1 0a2.05 2.05 0 1 0 -4.1 0M268.61 295.2a2.05 2.05 0 1 0 4.1 0a2.05 2.05 0 1 0 -4.1 0M277.65 290.2a2.05 2.05 0 1 0 4.1 0a2.05 2.05 0 1 0 -4.1 0M281.67 288.2a2.05 2.05 0 1 0 4.1 0a2.05 2.05 0 1 0 -4.1 0M288.9 286.3a2.05 2.05 0 1 0 4.1 0a2.05 2.05 0 1 0 -4.1 0M295.27 286.5a2.05 2.05 0 1 0 4.1 0a2.05 2.05 0 1 0 -4.1 0M300.98 283a2.05 2.05 0 1 0 4.1 0a2.05 2.05 0 1 0 -4.1 0M308.55 283.5a2.05 2.05 0 1 0 4.1 0a2.05 2.05 0 1 0 -4.1 0M315.18 278.1a2.05 2.05 0 1 0 4.1 0a2.05 2.05 0 1 0 -4.1 0M321.1 277.3a2.05 2.05 0 1 0 4.1 0a2.05 2.05 0 1 0 -4.1 0M328.09 274a2.05 2.05 0 1 0 4.1 0a2.05 2.05 0 1 0 -4.1 0M334.29 268.3a2.05 2.05 0 1 0 4.1 0a2.05 2.05 0 1 0 -4.1 0M341.15 268.3a2.05 2.05 0 1 0 4.1 0a2.05 2.05 0 1 0 -4.1 0M347.24 266.7a2.05 2.05 0 1 0 4.1 0a2.05 2.05 0 1 0 -4.1 0M353.74 265a2.05 2.05 0 1 0 4.1 0a2.05 2.05 0 1 0 -4.1 0M360.46 264.8a2.05 2.05 0 1 0 4.1 0a2.05 2.05 0 1 0 -4.1 0M366.43 264a2.05 2.05 0 1 0 4.1 0a2.05 2.05 0 1 0 -4.1 0M373.26 263.2a2.05 2.05 0 1 0 4.1 0a2.05 2.05 0 1 0 -4.1 0M379.32 262.1a2.05 2.05 0 1 0 4.1 0a2.05 2.05 0 1 0 -4.1 0M385.91 260a2.05 2.05 0 1 0 4.1 0a2.05 2.05 0 1 0 -4.1 0M392.28 258.8a2.05 2.05 0 1 0 4.1 0a2.05 2.05 0 1 0 -4.1 0M398.88 255.6a2.05 2.05 0 1 0 4.1 0a2.05 2.05 0 1 0 -4.1 0M405.16 255.2a2.05 2.05 0 1 0 4.1 0a2.05 2.05 0 1 0 -4.1 0M411.49 253.3a2.05 2.05 0 1 0 4.1 0a2.05 2.05 0 1 0 -4.1 0M418.11 253.6a2.05 2.05 0 1 0 4.1 0a2.05 2.05 0 1 0 -4.1 0M424.55 250.2a2.05 2.05 0 1 0 4.1 0a2.05 2.05 0 1 0 -4.1 0M430.81 248.2a2.05 2.05 0 1 0 4.1 0a2.05 2.05 0 1 0 -4.1 0M437.29 245.3a2.05 2.05 0 1 0 4.1 0a2.05 2.05 0 1 0 -4.1 0M443.86 250.2a2.05 2.05 0 1 0 4.1 0a2.05 2.05 0 1 0 -4.1 0M450.41 242.9a2.05 2.05 0 1 0 4.1 0a2.05 2.05 0 1 0 -4.1 0" fill="#5e35b1"/>
<text transform="translate(262.5,188.75) scale(0.92,1)" text-anchor="end" font-size="12">10<tspan dx="-0.5" dy="-5.5" font-size="9.5">1</tspan></text>
<text transform="translate(262.5,257.9) scale(0.92,1)" text-anchor="end" font-size="12">10<tspan dx="-0.5" dy="-5.5" font-size="9.5">0</tspan></text>
<text transform="translate(262.5,327.05) scale(0.92,1)" text-anchor="end" font-size="12">10<tspan dx="-0.5" dy="-5.5" font-size="9.5">-1</tspan></text>
<text transform="translate(265.5,338.05) scale(0.92,1)" text-anchor="middle" font-size="12">10<tspan dx="-0.4" dy="-5.5" font-size="9.5">1</tspan></text>
<text transform="translate(390.17,338.05) scale(0.92,1)" text-anchor="middle" font-size="12">10<tspan dx="-0.4" dy="-5.5" font-size="9.5">2</tspan></text>
<text transform="translate(239.1,252.55) rotate(-90)" text-anchor="middle" font-size="12.2" style="stroke:none"><tspan font-style="italic">F</tspan><tspan dy="1.8" font-size="8.6" font-style="italic">zy</tspan><tspan dy="-1.8">(</tspan><tspan font-style="italic">q</tspan>, <tspan font-style="italic">s</tspan>)</text>
<text x="283.8" y="207.5" font-size="10.65">(e) Rice-EPU</text>
<path d="M495.8 183.1H683V321.4H495.8Z" fill="none" stroke="#737373" stroke-width="1"/>
<path d="M495.8 321.4v-2.4M495.8 183.1v2.4M533.37 321.4v-1.3M533.37 183.1v1.3M555.34 321.4v-1.3M555.34 183.1v1.3M570.94 321.4v-1.3M570.94 183.1v1.3M583.03 321.4v-1.3M583.03 183.1v1.3M592.91 321.4v-1.3M592.91 183.1v1.3M601.27 321.4v-1.3M601.27 183.1v1.3M608.51 321.4v-1.3M608.51 183.1v1.3M614.89 321.4v-1.3M614.89 183.1v1.3M620.6 321.4v-2.4M620.6 183.1v2.4M658.17 321.4v-1.3M658.17 183.1v1.3M680.14 321.4v-1.3M680.14 183.1v1.3M495.8 321.4h2.4M683 321.4h-2.4M495.8 300.58h1.3M683 300.58h-1.3M495.8 288.41h1.3M683 288.41h-1.3M495.8 279.77h1.3M683 279.77h-1.3M495.8 273.07h1.3M683 273.07h-1.3M495.8 267.59h1.3M683 267.59h-1.3M495.8 262.96h1.3M683 262.96h-1.3M495.8 258.95h1.3M683 258.95h-1.3M495.8 255.41h1.3M683 255.41h-1.3M495.8 252.25h2.4M683 252.25h-2.4M495.8 231.43h1.3M683 231.43h-1.3M495.8 219.26h1.3M683 219.26h-1.3M495.8 210.62h1.3M683 210.62h-1.3M495.8 203.92h1.3M683 203.92h-1.3M495.8 198.44h1.3M683 198.44h-1.3M495.8 193.81h1.3M683 193.81h-1.3M495.8 189.8h1.3M683 189.8h-1.3M495.8 186.26h1.3M683 186.26h-1.3" fill="none" stroke="#737373" stroke-width="1"/>
<polyline points="495.8,259.1 500.97,258.1 510.02,255.4 514.04,254.7 521.27,253.1 527.66,251.6 533.37,250.3 540.94,248.4 547.59,247 553.51,245.7 560.51,243.7 566.71,243 573.58,240.9 579.68,240 586.19,237.5 592.91,236.2 598.89,235.3 605.73,234 611.79,232.6 618.39,233 624.77,229.6 631.38,229 637.66,227.3 644,225.8 650.62,226 657.07,224.5 663.33,224 669.83,222.9 676.41,220.9 682.96,219.8" fill="none" stroke="#edb120" stroke-width="0.9"/>
<polyline points="495.8,264.8 500.97,263.5 510.02,260.9 514.04,260.1 521.27,258.5 527.66,257 533.37,255.5 540.94,253.7 547.59,252 553.51,251 560.51,249.3 566.71,248.6 573.58,246.6 579.68,245.7 586.19,243.5 592.91,242 598.89,240.6 605.73,239.3 611.79,238 618.39,237.3 624.77,235.3 631.38,234 637.66,232.6 644,230.9 650.62,229.7 657.07,228.1 663.33,227.6 669.83,226.6 676.41,224.5 682.96,223.4" fill="none" stroke="#edb120" stroke-width="0.9"/>
<polyline points="495.8,270.7 500.97,269.2 510.02,266.6 514.04,265.5 521.27,264 527.66,262.4 533.37,261.2 540.94,258.2 547.59,257.3 553.51,256.3 560.51,254.6 566.71,253.3 573.58,251.3 579.68,250.6 586.19,248.6 592.91,247.3 598.89,245.9 605.73,243.9 611.79,242.6 618.39,241.3 624.77,240 631.38,238.6 637.66,237.3 644,235.6 650.62,233.8 657.07,232.2 663.33,231.2 669.83,230.2 676.41,228.1 682.96,226.6" fill="none" stroke="#edb120" stroke-width="0.9"/>
<polyline points="495.8,276.4 500.97,274.8 510.02,271.7 514.04,270.7 521.27,269.2 527.66,267.6 533.37,266.1 540.94,263.9 547.59,261.9 553.51,260.6 560.51,259.3 566.71,257.3 573.58,255.9 579.68,255 586.19,253.3 592.91,251.9 598.89,250.6 605.73,248.6 611.79,246.6 618.39,245.3 624.77,243.9 631.38,242 637.66,241.3 644,239.5 650.62,237.4 657.07,235.9 663.33,234.8 669.83,233.3 676.41,231.7 682.96,229.7" fill="none" stroke="#edb120" stroke-width="0.9"/>
<polyline points="495.8,282.9 500.97,280 510.02,276.7 514.04,275.4 521.27,274 527.66,272.3 533.37,270.3 540.94,267.9 547.59,265.7 553.51,264.3 560.51,261.9 566.71,261.3 573.58,259.9 579.68,258.6 586.19,257.4 592.91,255.9 598.89,254.9 605.73,251.3 611.79,250.3 618.39,248.6 624.77,247.9 631.38,245.3 637.66,246.6 644,243.2 650.62,241 657.07,239.5 663.33,238.4 669.83,235.9 676.41,234.8 682.96,232.2" fill="none" stroke="#edb120" stroke-width="0.9"/>
<path d="M493.75 259.1a2.05 2.05 0 1 0 4.1 0a2.05 2.05 0 1 0 -4.1 0M498.92 258.1a2.05 2.05 0 1 0 4.1 0a2.05 2.05 0 1 0 -4.1 0M507.97 255.4a2.05 2.05 0 1 0 4.1 0a2.05 2.05 0 1 0 -4.1 0M511.99 254.7a2.05 2.05 0 1 0 4.1 0a2.05 2.05 0 1 0 -4.1 0M519.22 253.1a2.05 2.05 0 1 0 4.1 0a2.05 2.05 0 1 0 -4.1 0M525.61 251.6a2.05 2.05 0 1 0 4.1 0a2.05 2.05 0 1 0 -4.1 0M531.32 250.3a2.05 2.05 0 1 0 4.1 0a2.05 2.05 0 1 0 -4.1 0M538.89 248.4a2.05 2.05 0 1 0 4.1 0a2.05 2.05 0 1 0 -4.1 0M545.54 247a2.05 2.05 0 1 0 4.1 0a2.05 2.05 0 1 0 -4.1 0M551.46 245.7a2.05 2.05 0 1 0 4.1 0a2.05 2.05 0 1 0 -4.1 0M558.46 243.7a2.05 2.05 0 1 0 4.1 0a2.05 2.05 0 1 0 -4.1 0M564.66 243a2.05 2.05 0 1 0 4.1 0a2.05 2.05 0 1 0 -4.1 0M571.53 240.9a2.05 2.05 0 1 0 4.1 0a2.05 2.05 0 1 0 -4.1 0M577.63 240a2.05 2.05 0 1 0 4.1 0a2.05 2.05 0 1 0 -4.1 0M584.14 237.5a2.05 2.05 0 1 0 4.1 0a2.05 2.05 0 1 0 -4.1 0M590.86 236.2a2.05 2.05 0 1 0 4.1 0a2.05 2.05 0 1 0 -4.1 0M596.84 235.3a2.05 2.05 0 1 0 4.1 0a2.05 2.05 0 1 0 -4.1 0M603.68 234a2.05 2.05 0 1 0 4.1 0a2.05 2.05 0 1 0 -4.1 0M609.74 232.6a2.05 2.05 0 1 0 4.1 0a2.05 2.05 0 1 0 -4.1 0M616.34 233a2.05 2.05 0 1 0 4.1 0a2.05 2.05 0 1 0 -4.1 0M622.72 229.6a2.05 2.05 0 1 0 4.1 0a2.05 2.05 0 1 0 -4.1 0M629.33 229a2.05 2.05 0 1 0 4.1 0a2.05 2.05 0 1 0 -4.1 0M635.61 227.3a2.05 2.05 0 1 0 4.1 0a2.05 2.05 0 1 0 -4.1 0M641.95 225.8a2.05 2.05 0 1 0 4.1 0a2.05 2.05 0 1 0 -4.1 0M648.57 226a2.05 2.05 0 1 0 4.1 0a2.05 2.05 0 1 0 -4.1 0M655.02 224.5a2.05 2.05 0 1 0 4.1 0a2.05 2.05 0 1 0 -4.1 0M661.28 224a2.05 2.05 0 1 0 4.1 0a2.05 2.05 0 1 0 -4.1 0M667.78 222.9a2.05 2.05 0 1 0 4.1 0a2.05 2.05 0 1 0 -4.1 0M674.36 220.9a2.05 2.05 0 1 0 4.1 0a2.05 2.05 0 1 0 -4.1 0M680.91 219.8a2.05 2.05 0 1 0 4.1 0a2.05 2.05 0 1 0 -4.1 0M493.75 264.8a2.05 2.05 0 1 0 4.1 0a2.05 2.05 0 1 0 -4.1 0M498.92 263.5a2.05 2.05 0 1 0 4.1 0a2.05 2.05 0 1 0 -4.1 0M507.97 260.9a2.05 2.05 0 1 0 4.1 0a2.05 2.05 0 1 0 -4.1 0M511.99 260.1a2.05 2.05 0 1 0 4.1 0a2.05 2.05 0 1 0 -4.1 0M519.22 258.5a2.05 2.05 0 1 0 4.1 0a2.05 2.05 0 1 0 -4.1 0M525.61 257a2.05 2.05 0 1 0 4.1 0a2.05 2.05 0 1 0 -4.1 0M531.32 255.5a2.05 2.05 0 1 0 4.1 0a2.05 2.05 0 1 0 -4.1 0M538.89 253.7a2.05 2.05 0 1 0 4.1 0a2.05 2.05 0 1 0 -4.1 0M545.54 252a2.05 2.05 0 1 0 4.1 0a2.05 2.05 0 1 0 -4.1 0M551.46 251a2.05 2.05 0 1 0 4.1 0a2.05 2.05 0 1 0 -4.1 0M558.46 249.3a2.05 2.05 0 1 0 4.1 0a2.05 2.05 0 1 0 -4.1 0M564.66 248.6a2.05 2.05 0 1 0 4.1 0a2.05 2.05 0 1 0 -4.1 0M571.53 246.6a2.05 2.05 0 1 0 4.1 0a2.05 2.05 0 1 0 -4.1 0M577.63 245.7a2.05 2.05 0 1 0 4.1 0a2.05 2.05 0 1 0 -4.1 0M584.14 243.5a2.05 2.05 0 1 0 4.1 0a2.05 2.05 0 1 0 -4.1 0M590.86 242a2.05 2.05 0 1 0 4.1 0a2.05 2.05 0 1 0 -4.1 0M596.84 240.6a2.05 2.05 0 1 0 4.1 0a2.05 2.05 0 1 0 -4.1 0M603.68 239.3a2.05 2.05 0 1 0 4.1 0a2.05 2.05 0 1 0 -4.1 0M609.74 238a2.05 2.05 0 1 0 4.1 0a2.05 2.05 0 1 0 -4.1 0M616.34 237.3a2.05 2.05 0 1 0 4.1 0a2.05 2.05 0 1 0 -4.1 0M622.72 235.3a2.05 2.05 0 1 0 4.1 0a2.05 2.05 0 1 0 -4.1 0M629.33 234a2.05 2.05 0 1 0 4.1 0a2.05 2.05 0 1 0 -4.1 0M635.61 232.6a2.05 2.05 0 1 0 4.1 0a2.05 2.05 0 1 0 -4.1 0M641.95 230.9a2.05 2.05 0 1 0 4.1 0a2.05 2.05 0 1 0 -4.1 0M648.57 229.7a2.05 2.05 0 1 0 4.1 0a2.05 2.05 0 1 0 -4.1 0M655.02 228.1a2.05 2.05 0 1 0 4.1 0a2.05 2.05 0 1 0 -4.1 0M661.28 227.6a2.05 2.05 0 1 0 4.1 0a2.05 2.05 0 1 0 -4.1 0M667.78 226.6a2.05 2.05 0 1 0 4.1 0a2.05 2.05 0 1 0 -4.1 0M674.36 224.5a2.05 2.05 0 1 0 4.1 0a2.05 2.05 0 1 0 -4.1 0M680.91 223.4a2.05 2.05 0 1 0 4.1 0a2.05 2.05 0 1 0 -4.1 0M493.75 270.7a2.05 2.05 0 1 0 4.1 0a2.05 2.05 0 1 0 -4.1 0M498.92 269.2a2.05 2.05 0 1 0 4.1 0a2.05 2.05 0 1 0 -4.1 0M507.97 266.6a2.05 2.05 0 1 0 4.1 0a2.05 2.05 0 1 0 -4.1 0M511.99 265.5a2.05 2.05 0 1 0 4.1 0a2.05 2.05 0 1 0 -4.1 0M519.22 264a2.05 2.05 0 1 0 4.1 0a2.05 2.05 0 1 0 -4.1 0M525.61 262.4a2.05 2.05 0 1 0 4.1 0a2.05 2.05 0 1 0 -4.1 0M531.32 261.2a2.05 2.05 0 1 0 4.1 0a2.05 2.05 0 1 0 -4.1 0M538.89 258.2a2.05 2.05 0 1 0 4.1 0a2.05 2.05 0 1 0 -4.1 0M545.54 257.3a2.05 2.05 0 1 0 4.1 0a2.05 2.05 0 1 0 -4.1 0M551.46 256.3a2.05 2.05 0 1 0 4.1 0a2.05 2.05 0 1 0 -4.1 0M558.46 254.6a2.05 2.05 0 1 0 4.1 0a2.05 2.05 0 1 0 -4.1 0M564.66 253.3a2.05 2.05 0 1 0 4.1 0a2.05 2.05 0 1 0 -4.1 0M571.53 251.3a2.05 2.05 0 1 0 4.1 0a2.05 2.05 0 1 0 -4.1 0M577.63 250.6a2.05 2.05 0 1 0 4.1 0a2.05 2.05 0 1 0 -4.1 0M584.14 248.6a2.05 2.05 0 1 0 4.1 0a2.05 2.05 0 1 0 -4.1 0M590.86 247.3a2.05 2.05 0 1 0 4.1 0a2.05 2.05 0 1 0 -4.1 0M596.84 245.9a2.05 2.05 0 1 0 4.1 0a2.05 2.05 0 1 0 -4.1 0M603.68 243.9a2.05 2.05 0 1 0 4.1 0a2.05 2.05 0 1 0 -4.1 0M609.74 242.6a2.05 2.05 0 1 0 4.1 0a2.05 2.05 0 1 0 -4.1 0M616.34 241.3a2.05 2.05 0 1 0 4.1 0a2.05 2.05 0 1 0 -4.1 0M622.72 240a2.05 2.05 0 1 0 4.1 0a2.05 2.05 0 1 0 -4.1 0M629.33 238.6a2.05 2.05 0 1 0 4.1 0a2.05 2.05 0 1 0 -4.1 0M635.61 237.3a2.05 2.05 0 1 0 4.1 0a2.05 2.05 0 1 0 -4.1 0M641.95 235.6a2.05 2.05 0 1 0 4.1 0a2.05 2.05 0 1 0 -4.1 0M648.57 233.8a2.05 2.05 0 1 0 4.1 0a2.05 2.05 0 1 0 -4.1 0M655.02 232.2a2.05 2.05 0 1 0 4.1 0a2.05 2.05 0 1 0 -4.1 0M661.28 231.2a2.05 2.05 0 1 0 4.1 0a2.05 2.05 0 1 0 -4.1 0M667.78 230.2a2.05 2.05 0 1 0 4.1 0a2.05 2.05 0 1 0 -4.1 0M674.36 228.1a2.05 2.05 0 1 0 4.1 0a2.05 2.05 0 1 0 -4.1 0M680.91 226.6a2.05 2.05 0 1 0 4.1 0a2.05 2.05 0 1 0 -4.1 0M493.75 276.4a2.05 2.05 0 1 0 4.1 0a2.05 2.05 0 1 0 -4.1 0M498.92 274.8a2.05 2.05 0 1 0 4.1 0a2.05 2.05 0 1 0 -4.1 0M507.97 271.7a2.05 2.05 0 1 0 4.1 0a2.05 2.05 0 1 0 -4.1 0M511.99 270.7a2.05 2.05 0 1 0 4.1 0a2.05 2.05 0 1 0 -4.1 0M519.22 269.2a2.05 2.05 0 1 0 4.1 0a2.05 2.05 0 1 0 -4.1 0M525.61 267.6a2.05 2.05 0 1 0 4.1 0a2.05 2.05 0 1 0 -4.1 0M531.32 266.1a2.05 2.05 0 1 0 4.1 0a2.05 2.05 0 1 0 -4.1 0M538.89 263.9a2.05 2.05 0 1 0 4.1 0a2.05 2.05 0 1 0 -4.1 0M545.54 261.9a2.05 2.05 0 1 0 4.1 0a2.05 2.05 0 1 0 -4.1 0M551.46 260.6a2.05 2.05 0 1 0 4.1 0a2.05 2.05 0 1 0 -4.1 0M558.46 259.3a2.05 2.05 0 1 0 4.1 0a2.05 2.05 0 1 0 -4.1 0M564.66 257.3a2.05 2.05 0 1 0 4.1 0a2.05 2.05 0 1 0 -4.1 0M571.53 255.9a2.05 2.05 0 1 0 4.1 0a2.05 2.05 0 1 0 -4.1 0M577.63 255a2.05 2.05 0 1 0 4.1 0a2.05 2.05 0 1 0 -4.1 0M584.14 253.3a2.05 2.05 0 1 0 4.1 0a2.05 2.05 0 1 0 -4.1 0M590.86 251.9a2.05 2.05 0 1 0 4.1 0a2.05 2.05 0 1 0 -4.1 0M596.84 250.6a2.05 2.05 0 1 0 4.1 0a2.05 2.05 0 1 0 -4.1 0M603.68 248.6a2.05 2.05 0 1 0 4.1 0a2.05 2.05 0 1 0 -4.1 0M609.74 246.6a2.05 2.05 0 1 0 4.1 0a2.05 2.05 0 1 0 -4.1 0M616.34 245.3a2.05 2.05 0 1 0 4.1 0a2.05 2.05 0 1 0 -4.1 0M622.72 243.9a2.05 2.05 0 1 0 4.1 0a2.05 2.05 0 1 0 -4.1 0M629.33 242a2.05 2.05 0 1 0 4.1 0a2.05 2.05 0 1 0 -4.1 0M635.61 241.3a2.05 2.05 0 1 0 4.1 0a2.05 2.05 0 1 0 -4.1 0M641.95 239.5a2.05 2.05 0 1 0 4.1 0a2.05 2.05 0 1 0 -4.1 0M648.57 237.4a2.05 2.05 0 1 0 4.1 0a2.05 2.05 0 1 0 -4.1 0M655.02 235.9a2.05 2.05 0 1 0 4.1 0a2.05 2.05 0 1 0 -4.1 0M661.28 234.8a2.05 2.05 0 1 0 4.1 0a2.05 2.05 0 1 0 -4.1 0M667.78 233.3a2.05 2.05 0 1 0 4.1 0a2.05 2.05 0 1 0 -4.1 0M674.36 231.7a2.05 2.05 0 1 0 4.1 0a2.05 2.05 0 1 0 -4.1 0M680.91 229.7a2.05 2.05 0 1 0 4.1 0a2.05 2.05 0 1 0 -4.1 0M493.75 282.9a2.05 2.05 0 1 0 4.1 0a2.05 2.05 0 1 0 -4.1 0M498.92 280a2.05 2.05 0 1 0 4.1 0a2.05 2.05 0 1 0 -4.1 0M507.97 276.7a2.05 2.05 0 1 0 4.1 0a2.05 2.05 0 1 0 -4.1 0M511.99 275.4a2.05 2.05 0 1 0 4.1 0a2.05 2.05 0 1 0 -4.1 0M519.22 274a2.05 2.05 0 1 0 4.1 0a2.05 2.05 0 1 0 -4.1 0M525.61 272.3a2.05 2.05 0 1 0 4.1 0a2.05 2.05 0 1 0 -4.1 0M531.32 270.3a2.05 2.05 0 1 0 4.1 0a2.05 2.05 0 1 0 -4.1 0M538.89 267.9a2.05 2.05 0 1 0 4.1 0a2.05 2.05 0 1 0 -4.1 0M545.54 265.7a2.05 2.05 0 1 0 4.1 0a2.05 2.05 0 1 0 -4.1 0M551.46 264.3a2.05 2.05 0 1 0 4.1 0a2.05 2.05 0 1 0 -4.1 0M558.46 261.9a2.05 2.05 0 1 0 4.1 0a2.05 2.05 0 1 0 -4.1 0M564.66 261.3a2.05 2.05 0 1 0 4.1 0a2.05 2.05 0 1 0 -4.1 0M571.53 259.9a2.05 2.05 0 1 0 4.1 0a2.05 2.05 0 1 0 -4.1 0M577.63 258.6a2.05 2.05 0 1 0 4.1 0a2.05 2.05 0 1 0 -4.1 0M584.14 257.4a2.05 2.05 0 1 0 4.1 0a2.05 2.05 0 1 0 -4.1 0M590.86 255.9a2.05 2.05 0 1 0 4.1 0a2.05 2.05 0 1 0 -4.1 0M596.84 254.9a2.05 2.05 0 1 0 4.1 0a2.05 2.05 0 1 0 -4.1 0M603.68 251.3a2.05 2.05 0 1 0 4.1 0a2.05 2.05 0 1 0 -4.1 0M609.74 250.3a2.05 2.05 0 1 0 4.1 0a2.05 2.05 0 1 0 -4.1 0M616.34 248.6a2.05 2.05 0 1 0 4.1 0a2.05 2.05 0 1 0 -4.1 0M622.72 247.9a2.05 2.05 0 1 0 4.1 0a2.05 2.05 0 1 0 -4.1 0M629.33 245.3a2.05 2.05 0 1 0 4.1 0a2.05 2.05 0 1 0 -4.1 0M635.61 246.6a2.05 2.05 0 1 0 4.1 0a2.05 2.05 0 1 0 -4.1 0M641.95 243.2a2.05 2.05 0 1 0 4.1 0a2.05 2.05 0 1 0 -4.1 0M648.57 241a2.05 2.05 0 1 0 4.1 0a2.05 2.05 0 1 0 -4.1 0M655.02 239.5a2.05 2.05 0 1 0 4.1 0a2.05 2.05 0 1 0 -4.1 0M661.28 238.4a2.05 2.05 0 1 0 4.1 0a2.05 2.05 0 1 0 -4.1 0M667.78 235.9a2.05 2.05 0 1 0 4.1 0a2.05 2.05 0 1 0 -4.1 0M674.36 234.8a2.05 2.05 0 1 0 4.1 0a2.05 2.05 0 1 0 -4.1 0M680.91 232.2a2.05 2.05 0 1 0 4.1 0a2.05 2.05 0 1 0 -4.1 0" fill="#edb120"/>
<text transform="translate(492.8,188.75) scale(0.92,1)" text-anchor="end" font-size="12">10<tspan dx="-0.5" dy="-5.5" font-size="9.5">1</tspan></text>
<text transform="translate(492.8,257.9) scale(0.92,1)" text-anchor="end" font-size="12">10<tspan dx="-0.5" dy="-5.5" font-size="9.5">0</tspan></text>
<text transform="translate(492.8,327.05) scale(0.92,1)" text-anchor="end" font-size="12">10<tspan dx="-0.5" dy="-5.5" font-size="9.5">-1</tspan></text>
<text transform="translate(495.8,338.05) scale(0.92,1)" text-anchor="middle" font-size="12">10<tspan dx="-0.4" dy="-5.5" font-size="9.5">1</tspan></text>
<text transform="translate(620.6,338.05) scale(0.92,1)" text-anchor="middle" font-size="12">10<tspan dx="-0.4" dy="-5.5" font-size="9.5">2</tspan></text>
<text transform="translate(469.4,252.55) rotate(-90)" text-anchor="middle" font-size="12.2" style="stroke:none"><tspan font-style="italic">F</tspan><tspan dy="1.8" font-size="8.6" font-style="italic">zy</tspan><tspan dy="-1.8">(</tspan><tspan font-style="italic">q</tspan>, <tspan font-style="italic">s</tspan>)</text>
<text x="514.1" y="207.5" font-size="10.65">(f) Barley-EPU</text>
</svg>
</body></html>
